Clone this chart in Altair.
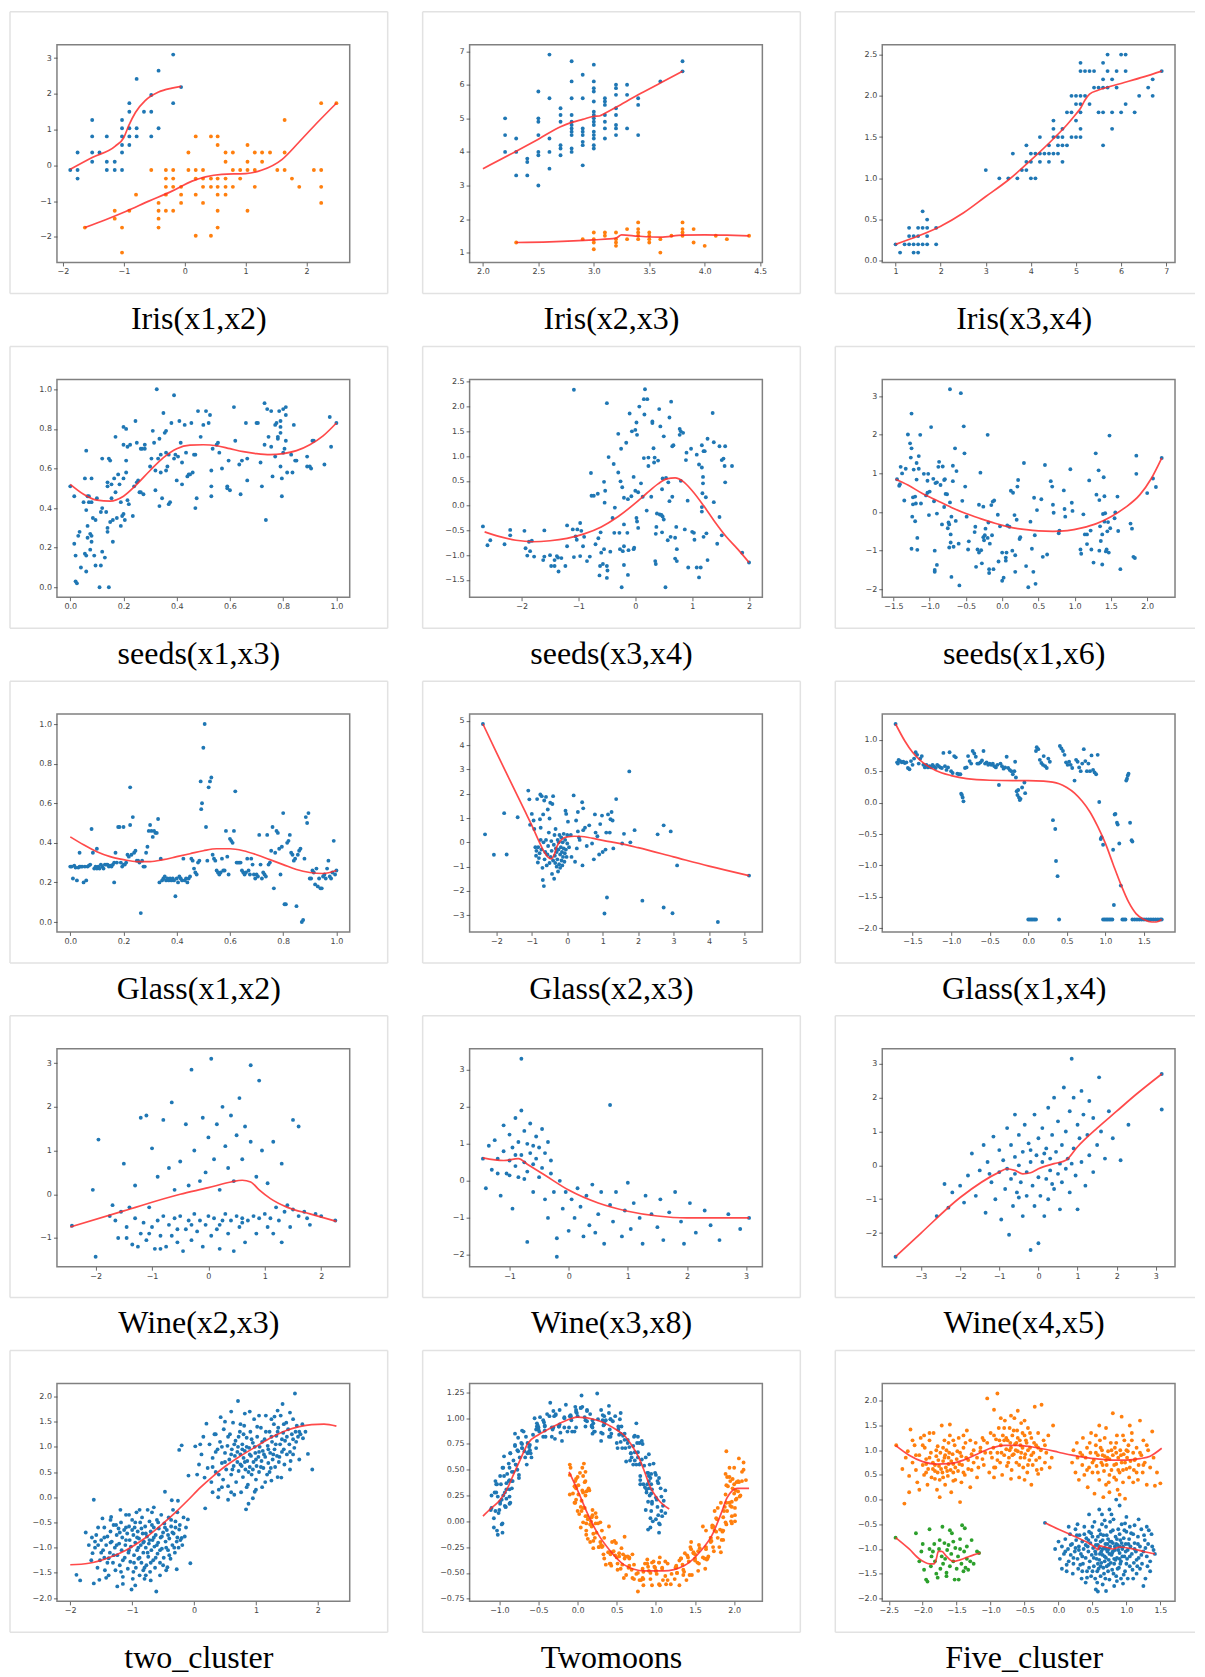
import altair as alt
import pandas as pd

BLUE = "#1f77b4"
ORANGE = "#ff7f0e"
GREEN = "#2ca02c"

# ---------------- Iris(x1,x2) ----------------
IRIS12_B = [(-1.88,-0.13),(-1.76,0.36),(-1.76,-0.13),(-1.76,-0.37),(-1.52,1.27),(-1.52,0.81),(-1.52,0.36),(-1.52,0.10),
            (-1.40,0.36),(-1.28,0.81),(-1.28,0.10),(-1.28,-0.13),(-1.15,0.10),(-1.15,-0.13),(-1.03,1.27),(-1.03,1.04),
            (-1.03,0.81),(-1.03,0.57),(-1.03,0.36),(-1.03,-0.13),(-0.91,1.74),(-0.91,1.50),(-0.91,1.04),(-0.91,0.81),
            (-0.91,0.57),(-0.79,2.42),(-0.79,1.04),(-0.79,0.81),(-0.67,1.50),(-0.55,1.50),(-0.55,1.97),(-0.55,0.81),
            (-0.43,2.65),(-0.43,1.04),(-0.19,3.10),(-0.19,1.74),(-0.06,2.19)]
IRIS12_O = [(2.24,1.74),(2.49,1.74),(1.64,1.27),(0.18,0.81),(0.43,0.81),(0.54,0.81),(0.54,0.57),(1.03,0.57),
            (0.06,0.36),(0.67,0.36),(0.79,0.36),(1.15,0.36),(1.27,0.36),(1.40,0.36),(1.64,0.36),
            (0.67,0.10),(1.03,0.10),(1.27,0.10),
            (-0.55,-0.13),(-0.31,-0.13),(-0.19,-0.13),(0.06,-0.13),(0.18,-0.13),(0.30,-0.13),(0.79,-0.13),(0.91,-0.13),
            (1.03,-0.13),(1.15,-0.13),(1.52,-0.13),(1.64,-0.13),(2.12,-0.13),(2.24,-0.13),
            (-0.31,-0.37),(-0.19,-0.37),(0.18,-0.37),(0.30,-0.37),(0.43,-0.37),(0.54,-0.37),(0.67,-0.37),(0.91,-0.37),(1.76,-0.37),
            (-0.31,-0.60),(-0.19,-0.60),(-0.06,-0.60),(0.30,-0.60),(0.43,-0.60),(0.54,-0.60),(0.67,-0.60),(0.79,-0.60),
            (1.15,-0.60),(1.88,-0.60),(2.24,-0.60),
            (-0.80,-0.82),(-0.31,-0.82),(-0.06,-0.82),(0.18,-0.82),(0.54,-0.82),(0.67,-0.82),
            (-0.43,-1.05),(-0.06,-1.05),(0.30,-1.05),(2.24,-1.05),
            (-1.15,-1.27),(-0.91,-1.27),(-0.43,-1.27),(-0.31,-1.27),(-0.19,-1.27),(0.54,-1.27),(1.03,-1.27),
            (-1.15,-1.49),(-0.43,-1.49),(-1.64,-1.74),(-1.03,-1.74),(-0.43,-1.74),(0.54,-1.74),
            (0.18,-1.97),(0.43,-1.97),(-1.03,-2.44)]
IRIS12_CB = [(-1.88,-0.11),(-1.52,0.22),(-1.14,0.54),(-1.0,0.78),(-0.92,1.11),(-0.81,1.48),(-0.65,1.81),
             (-0.43,2.05),(-0.21,2.16),(-0.06,2.21)]
IRIS12_CO = [(-1.64,-1.74),(-1.30,-1.52),(-0.97,-1.29),(-0.59,-1.0),(-0.21,-0.72),(0.12,-0.44),(0.34,-0.32),
             (0.61,-0.25),(1.0,-0.23),(1.27,-0.13),(1.60,0.17),(1.87,0.64),(2.15,1.15),(2.49,1.74)]

# ---------------- Iris(x2,x3) ----------------
IRIS23_B = [(2.2,5.0),(2.2,4.5),(2.2,4.0),(2.3,4.4),(2.3,4.0),(2.3,3.3),(2.4,3.8),(2.4,3.7),(2.4,3.3),
            (2.5,5.8),(2.5,5.0),(2.5,4.9),(2.5,4.5),(2.5,4.0),(2.5,3.9),(2.5,3.0),
            (2.6,6.9),(2.6,5.6),(2.6,4.4),(2.6,4.0),(2.6,3.5),
            (2.7,5.3),(2.7,5.1),(2.7,4.9),(2.7,4.2),(2.7,4.1),(2.7,3.9),
            (2.8,6.7),(2.8,6.1),(2.8,5.6),(2.8,5.1),(2.8,4.9),(2.8,4.8),(2.8,4.7),(2.8,4.6),(2.8,4.5),(2.8,4.1),(2.8,4.0),
            (2.9,6.3),(2.9,5.6),(2.9,4.7),(2.9,4.6),(2.9,4.5),(2.9,4.3),(2.9,4.2),(2.9,3.6),
            (3.0,6.6),(3.0,6.1),(3.0,5.9),(3.0,5.8),(3.0,5.5),(3.0,5.2),(3.0,5.1),(3.0,5.0),(3.0,4.9),(3.0,4.8),
            (3.0,4.6),(3.0,4.5),(3.0,4.4),(3.0,4.2),(3.0,4.1),
            (3.1,5.6),(3.1,5.5),(3.1,5.4),(3.1,5.1),(3.1,4.9),(3.1,4.7),(3.1,4.4),
            (3.2,6.0),(3.2,5.9),(3.2,5.7),(3.2,5.3),(3.2,5.1),(3.2,4.8),(3.2,4.7),(3.2,4.5),
            (3.3,6.0),(3.3,5.7),(3.3,4.7),(3.4,5.6),(3.4,5.4),(3.4,4.5),(3.6,6.1),(3.8,6.7),(3.8,6.4)]
IRIS23_O = [(2.3,1.3),(2.9,1.4),(3.0,1.6),(3.0,1.4),(3.0,1.3),(3.0,1.1),(3.1,1.6),(3.1,1.5),
            (3.2,1.6),(3.2,1.4),(3.2,1.3),(3.2,1.2),(3.3,1.7),(3.3,1.4),
            (3.4,1.9),(3.4,1.7),(3.4,1.6),(3.4,1.5),(3.4,1.4),(3.5,1.6),(3.5,1.5),(3.5,1.4),(3.5,1.3),
            (3.6,1.4),(3.6,1.0),(3.7,1.5),(3.8,1.9),(3.8,1.7),(3.8,1.6),(3.8,1.5),(3.9,1.7),(3.9,1.3),
            (4.0,1.2),(4.1,1.5),(4.2,1.4),(4.4,1.5)]
IRIS23_CB = [(2.0,3.5),(2.3,4.02),(2.5,4.38),(2.7,4.75),(2.8,4.88),(2.9,4.97),(3.0,5.06),(3.05,5.07),
             (3.1,5.15),(3.2,5.33),(3.4,5.7),(3.6,6.05),(3.8,6.4)]
IRIS23_CO = [(2.3,1.3),(2.6,1.32),(3.0,1.38),(3.2,1.43),(3.25,1.53),(3.4,1.49),(3.6,1.46),(3.8,1.52),
             (4.0,1.53),(4.2,1.52),(4.4,1.5)]

# ---------------- Iris(x3,x4) ----------------
IRIS34_B = [(1.0,0.2),(1.1,0.1),(1.2,0.2),(1.3,0.2),(1.3,0.3),(1.3,0.4),(1.4,0.2),(1.4,0.1),(1.4,0.3),
            (1.5,0.2),(1.5,0.4),(1.5,0.1),(1.5,0.3),(1.6,0.2),(1.6,0.4),(1.6,0.6),(1.7,0.5),(1.7,0.4),
            (1.7,0.3),(1.7,0.2),(1.9,0.4),(1.9,0.2),
            (3.0,1.1),(3.3,1.0),(3.5,1.0),(3.6,1.3),(3.7,1.0),(3.8,1.1),(3.9,1.1),(3.9,1.2),(3.9,1.4),
            (4.0,1.0),(4.0,1.2),(4.0,1.3),(4.1,1.0),(4.1,1.3),(4.2,1.2),(4.2,1.3),(4.2,1.5),(4.3,1.3),
            (4.4,1.2),(4.4,1.3),(4.4,1.4),(4.5,1.3),(4.5,1.5),(4.5,1.6),(4.5,1.7),(4.6,1.3),(4.6,1.4),
            (4.6,1.5),(4.7,1.2),(4.7,1.4),(4.7,1.5),(4.7,1.6),(4.8,1.4),(4.8,1.8),(4.9,1.5),(4.9,1.8),
            (4.9,2.0),(5.0,1.5),(5.0,1.7),(5.0,1.9),(5.0,2.0),(5.1,1.5),(5.1,1.6),(5.1,1.8),(5.1,1.9),
            (5.1,2.0),(5.1,2.3),(5.1,2.4),(5.2,2.0),(5.2,2.3),(5.3,1.9),(5.3,2.3),(5.4,2.1),(5.4,2.3),
            (5.5,1.8),(5.5,2.1),(5.6,1.4),(5.6,1.8),(5.6,2.1),(5.6,2.2),(5.6,2.4),(5.7,2.1),(5.7,2.3),
            (5.7,2.5),(5.8,1.6),(5.8,1.8),(5.8,2.2),(5.9,2.1),(5.9,2.3),(6.0,1.8),(6.0,2.5),(6.1,1.9),
            (6.1,2.3),(6.1,2.5),(6.3,1.8),(6.4,2.0),(6.6,2.1),(6.7,2.0),(6.7,2.2),(6.9,2.3)]
IRIS34_C = [(1.0,0.2),(1.5,0.3),(2.0,0.42),(2.5,0.58),(3.0,0.78),(3.5,0.98),(4.0,1.22),(4.5,1.48),
            (4.8,1.65),(5.0,1.78),(5.1,1.85),(5.2,1.95),(5.3,2.02),(5.5,2.07),(6.0,2.15),(6.5,2.23),(6.9,2.3)]

# ---------------- seeds(x1,x3) ----------------
SEEDS13_B = [(0.0,0.51),(0.015,0.22),(0.02,0.16),(0.015,0.46),(0.02,0.03),(0.025,0.02),(0.03,0.26),(0.035,0.28),
             (0.04,0.10),(0.05,0.43),(0.055,0.55),(0.055,0.17),(0.06,0.16),(0.06,0.08),(0.06,0.69),(0.06,0.39),
             (0.065,0.31),(0.065,0.25),(0.065,0.46),(0.07,0.46),(0.07,0.43),(0.075,0.19),(0.075,0.27),(0.08,0.26),
             (0.08,0.23),(0.08,0.43),(0.08,0.55),(0.085,0.35),(0.09,0.16),(0.095,0.34),(0.095,0.11),(0.1,0.45),
             (0.11,0.0),(0.115,0.11),(0.115,0.38),(0.12,0.40),(0.12,0.18),(0.12,0.65),(0.13,0.15),(0.135,0.38),
             (0.14,0.30),(0.14,0.51),(0.14,0.53),(0.14,0.28),(0.145,0.65),(0.145,0.0),(0.15,0.64),(0.15,0.33),
             (0.155,0.45),(0.155,0.52),(0.16,0.23),(0.16,0.34),(0.165,0.55),(0.17,0.76),(0.17,0.48),(0.175,0.35),
             (0.18,0.57),(0.185,0.52),(0.19,0.31),(0.19,0.43),(0.195,0.36),(0.2,0.37),(0.2,0.72),(0.2,0.55),
             (0.2,0.81),(0.205,0.34),(0.21,0.80),(0.21,0.64),(0.21,0.58),(0.215,0.44),(0.215,0.71),(0.22,0.42),
             (0.225,0.72),(0.235,0.36),(0.24,0.51),(0.245,0.84),(0.25,0.53),(0.25,0.73),(0.255,0.54),(0.26,0.48),
             (0.265,0.70),(0.265,0.48),(0.27,0.70),(0.275,0.47),(0.28,0.72),(0.28,0.70),
             (0.3,0.61),(0.305,0.65),(0.31,0.79),(0.315,0.73),(0.32,0.59),(0.32,0.49),(0.325,1.0),(0.33,0.65),
             (0.335,0.75),(0.335,0.41),(0.34,0.67),(0.34,0.58),(0.345,0.45),(0.35,0.88),(0.355,0.78),(0.36,0.79),
             (0.36,0.68),(0.36,0.59),(0.365,0.61),(0.37,0.67),(0.37,0.42),(0.375,0.43),(0.38,0.83),(0.39,0.97),
             (0.39,0.65),(0.395,0.67),(0.4,0.54),(0.405,0.66),(0.41,0.84),(0.415,0.73),(0.42,0.52),(0.42,0.63),
             (0.43,0.82),(0.435,0.68),(0.44,0.56),(0.445,0.57),(0.45,0.57),(0.455,0.83),(0.46,0.58),(0.465,0.67),
             (0.47,0.40),(0.47,0.67),(0.475,0.45),(0.48,0.89),(0.49,0.76),(0.5,0.82),(0.51,0.89),(0.52,0.83),
             (0.525,0.87),(0.53,0.46),(0.53,0.51),(0.53,0.59),(0.535,0.70),(0.55,0.72),(0.555,0.73),(0.56,0.68),
             (0.57,0.60),(0.59,0.51),(0.59,0.50),(0.595,0.64),(0.6,0.49),
             (0.615,0.91),(0.62,0.74),(0.635,0.62),(0.64,0.47),(0.645,0.64),(0.66,0.83),(0.665,0.54),(0.665,0.65),
             (0.7,0.83),(0.705,0.83),(0.715,0.63),(0.72,0.51),(0.73,0.72),(0.73,0.93),(0.735,0.34),(0.74,0.90),
             (0.745,0.76),(0.755,0.71),(0.755,0.89),(0.76,0.56),(0.77,0.66),(0.77,0.82),(0.775,0.83),(0.78,0.75),
             (0.78,0.76),(0.785,0.89),(0.79,0.84),(0.79,0.81),(0.79,0.78),(0.79,0.61),(0.795,0.46),(0.795,0.55),
             (0.8,0.68),(0.8,0.90),(0.805,0.70),(0.81,0.91),(0.81,0.87),(0.81,0.74),(0.815,0.58),(0.83,0.67),
             (0.835,0.58),(0.84,0.82),(0.845,0.64),(0.85,0.64),(0.89,0.61),(0.89,0.66),(0.9,0.61),(0.905,0.60),
             (0.91,0.74),(0.915,0.74),(0.955,0.62),(0.975,0.86),(0.98,0.71),(1.0,0.83)]
SEEDS13_C = [(0.0,0.52),(0.05,0.47),(0.1,0.44),(0.15,0.435),(0.2,0.46),(0.25,0.52),(0.3,0.59),(0.35,0.655),
             (0.4,0.70),(0.45,0.718),(0.5,0.72),(0.55,0.715),(0.6,0.70),(0.65,0.685),(0.7,0.675),(0.75,0.67),
             (0.8,0.675),(0.85,0.69),(0.9,0.72),(0.95,0.765),(1.0,0.83)]

# ---------------- seeds(x3,x4) ----------------
SEEDS34_B = [(-2.68,-0.42),(-2.6,-0.8),(-2.55,-0.7),(-2.3,-0.78),(-2.2,-0.49),(-2.2,-0.6),(-1.95,-0.51),(-1.93,-0.86),
             (-1.9,-1.01),(-1.87,-0.73),(-1.85,-0.92),(-1.82,-0.71),(-1.78,-1.03),(-1.6,-0.5),(-1.62,-1.1),(-1.6,-1.03),
             (-1.5,-1.0),(-1.48,-1.22),(-1.42,-1.22),(-1.42,-1.1),(-1.38,-1.02),(-1.36,-1.05),(-1.35,-1.33),(-1.3,-1.06),
             (-1.23,-1.22),(-1.2,-0.82),(-1.2,-0.4),(-1.1,-0.48),(-1.08,-1.04),(-1.08,2.34),(-1.05,-0.62),(-1.03,-0.69),
             (-1.02,-0.48),(-0.97,-1.02),(-0.97,-0.35),(-0.95,-0.51),(-0.92,-0.82),(-0.9,-0.63),(-0.85,-1.12),(-0.8,-1.03),
             (-0.78,0.66),(-0.77,0.2),(-0.73,0.2),(-0.7,-0.78),(-0.66,0.24),(-0.65,-0.66),(-0.63,-1.41),(-0.62,-1.22),
             (-0.61,-0.54),(-0.6,-0.95),(-0.57,-1.18),(-0.55,-0.88),(-0.55,0.48),(-0.54,0.06),(-0.53,0.3),(-0.5,-1.46),
             (-0.5,-1.22),(-0.5,2.07),(-0.49,-1.31),(-0.47,0.98),(-0.44,-0.93),(-0.4,-0.25),(-0.38,0.84),(-0.37,-0.55),
             (-0.36,-0.04),(-0.3,1.45),(-0.3,0.67),(-0.28,-0.55),(-0.27,-0.88),(-0.26,0.49),(-0.25,1.15),(-0.24,-1.65),
             (-0.23,0.37),(-0.22,-0.92),(-0.2,-0.82),(-0.2,0.16),(-0.2,-0.38),(-0.2,-1.2),(-0.16,1.27),(-0.14,-0.55),
             (-0.13,0.13),(-0.13,-1.4),(-0.12,-0.9),(-0.1,1.86),(-0.07,0.19),(-0.06,1.5),(-0.03,-0.88),(-0.03,0.58),
             (-0.02,-0.85),(0.0,1.53),(0.0,0.3),(0.02,1.68),(0.02,-0.25),(0.03,1.43),(0.03,-0.32),(0.05,-0.45),
             (0.05,0.27),(0.07,2.0),(0.1,0.45),(0.13,0.18),(0.15,2.15),(0.15,0.96),(0.16,1.84),(0.17,2.35),
             (0.2,-0.1),(0.21,2.15),(0.23,0.8),(0.23,0.97),(0.28,0.18),(0.3,1.67),(0.3,1.7),(0.32,1.16),(0.33,0.87),
             (0.34,0.97),(0.35,-1.12),(0.36,-1.18),(0.36,-0.57),(0.37,-0.43),(0.38,-0.16),(0.4,0.91),(0.42,1.95),
             (0.43,-0.18),(0.44,1.6),(0.46,-0.19),(0.47,0.33),(0.47,-0.54),(0.48,0.55),(0.48,-0.22),(0.5,1.4),
             (0.5,-0.28),(0.53,-1.65),(0.54,0.56),(0.57,-0.7),(0.58,0.47),(0.6,1.78),(0.6,0.09),(0.62,-0.63),
             (0.63,2.1),(0.65,0.18),(0.65,1.2),(0.67,1.22),(0.7,-1.07),(0.7,-0.65),(0.72,-0.43),(0.73,-1.12),
             (0.73,-0.88),(0.78,1.43),(0.78,1.55),(0.8,0.5),(0.8,1.5),(0.84,1.47),(0.87,-0.48),(0.89,0.92),
             (0.9,1.07),(0.92,0.1),(0.93,-1.25),(0.98,1.15),(1.0,-0.53),(1.03,-0.55),(1.04,-0.69),(1.08,1.03),
             (1.08,-1.25),(1.12,-1.45),(1.12,0.83),(1.15,-1.25),(1.17,1.22),(1.17,0.77),(1.17,-0.12),(1.17,-0.03),
             (1.18,0.25),(1.19,0.58),(1.19,0.45),(1.2,-0.63),(1.2,1.1),(1.22,1.1),(1.24,0.17),(1.25,-0.56),
             (1.27,1.35),(1.27,-1.1),(1.36,1.87),(1.38,1.28),(1.38,0.07),(1.44,-0.77),(1.48,-0.23),(1.48,1.2),
             (1.52,0.92),(1.52,-0.6),(1.55,0.95),(1.57,0.8),(1.58,0.47),(1.58,1.2),(1.7,0.8),(1.88,-0.95),(2.0,-1.15)]
SEEDS34_C = [(-2.65,-0.53),(-2.4,-0.62),(-2.1,-0.7),(-1.8,-0.73),(-1.5,-0.71),(-1.2,-0.66),(-0.9,-0.57),
             (-0.6,-0.43),(-0.3,-0.22),(0.0,0.05),(0.2,0.25),(0.4,0.44),(0.55,0.54),(0.7,0.56),(0.85,0.48),
             (1.0,0.3),(1.2,0.0),(1.4,-0.33),(1.6,-0.63),(1.8,-0.88),(2.0,-1.15)]

# ---------------- seeds(x1,x6) ----------------
SEEDS16_B = [(-1.45,0.85),(-1.42,0.68),(-1.41,0.72),(-1.4,1.17),(-1.38,1.0),(-1.35,0.3),(-1.33,1.12),(-1.3,2.01),
             (-1.27,1.78),(-1.26,1.41),(-1.25,1.65),(-1.25,2.55),(-1.25,-0.95),(-1.24,-0.12),(-1.23,0.38),(-1.23,0.2),
             (-1.22,1.1),(-1.2,-0.24),(-1.2,0.4),(-1.19,0.22),(-1.18,1.27),(-1.18,0.84),(-1.17,-0.67),(-1.17,-0.98),
             (-1.15,1.45),(-1.15,1.12),(-1.13,2.0),(-1.12,0.22),(-1.08,0.99),(-1.05,0.43),(-1.03,0.5),(-1.03,0.81),
             (-1.02,0.99),(-1.01,-0.08),(-1.0,0.53),(-0.98,2.2),(-0.95,0.86),(-0.94,0.28),(-0.93,-1.0),(-0.93,-1.5),
             (-0.93,-1.55),(-0.92,0.75),(-0.9,-0.04),(-0.9,0.77),(-0.9,-1.37),(-0.88,1.17),(-0.87,1.3),(-0.85,0.7),
             (-0.83,-0.32),(-0.82,1.18),(-0.8,0.13),(-0.8,0.83),(-0.79,0.85),(-0.78,0.47),(-0.76,0.46),(-0.75,-0.42),
             (-0.74,-0.27),(-0.73,-0.32),(-0.73,-0.92),(-0.72,3.18),(-0.72,0.25),(-0.71,-0.79),(-0.71,-0.58),(-0.7,-0.12),
             (-0.7,-1.68),(-0.68,1.2),(-0.68,0.8),(-0.67,-0.9),(-0.65,1.65),(-0.64,-0.23),(-0.63,1.06),(-0.6,-0.82),
             (-0.59,-1.9),(-0.57,3.08),(-0.55,0.29),(-0.53,2.22),(-0.52,1.52),(-0.51,0.66),(-0.49,-0.12),(-0.47,-0.97),
             (-0.46,-0.76),(-0.38,-0.52),(-0.37,-0.38),(-0.36,-1.42),(-0.34,-0.97),(-0.32,0.19),(-0.32,-1.05),(-0.3,1.02),
             (-0.29,-0.99),(-0.28,-1.33),(-0.26,0.14),(-0.26,-0.65),(-0.25,-0.73),(-0.24,-0.6),(-0.23,-0.43),(-0.2,2.0),
             (-0.2,-0.67),(-0.19,-0.27),(-0.18,-1.58),(-0.18,-1.48),(-0.17,-0.82),(-0.15,0.18),(-0.14,-0.6),(-0.13,0.27),
             (-0.12,-1.48),(-0.11,0.3),(-0.06,-0.07),(-0.05,-1.28),(-0.03,-0.37),(0.0,-1.78),(0.0,-1.05),(0.02,-1.7),
             (0.05,-1.26),(0.05,-1.18),(0.06,-1.05),(0.07,-0.35),(0.1,-0.38),(0.12,0.55),(0.14,-1.0),(0.15,0.5),
             (0.17,-0.08),(0.18,-1.12),(0.18,-1.55),(0.2,-0.2),(0.21,0.66),(0.22,0.83),(0.24,-0.7),(0.25,-0.65),
             (0.3,1.27),(0.33,-1.4),(0.36,-1.95),(0.39,-0.25),(0.41,-0.95),(0.43,-1.55),(0.44,0.37),(0.45,-0.6),
             (0.46,-1.86),(0.48,0.05),(0.54,0.33),(0.56,-1.16),(0.59,1.22),(0.62,-1.1),(0.67,0.8),(0.69,0.66),
             (0.7,0.19),(0.71,-0.02),(0.78,-0.55),(0.79,-0.48),(0.85,0.56),(0.86,0.08),(0.87,-0.12),(0.94,1.11),
             (0.96,0.24),(0.97,0.03),(1.08,-0.97),(1.09,-1.08),(1.12,-0.06),(1.14,-0.58),(1.17,-0.58),(1.17,-0.83),
             (1.2,0.82),(1.22,-0.48),(1.23,-0.97),(1.26,-1.31),(1.29,1.52),(1.3,0.45),(1.33,1.08),(1.34,0.31),
             (1.34,-1.0),(1.35,-0.37),(1.36,-0.75),(1.38,-1.36),(1.38,-0.58),(1.39,-0.05),(1.4,0.9),(1.41,0.41),
             (1.41,-0.25),(1.42,-0.03),(1.43,-1.02),(1.44,-0.97),(1.45,-0.5),(1.46,-0.26),(1.47,-1.05),(1.48,1.98),
             (1.49,-0.42),(1.55,-0.16),(1.56,-0.01),(1.59,0.4),(1.6,-0.49),(1.63,-1.48),(1.77,-0.3),(1.79,-0.43),
             (1.81,-1.16),(1.83,-1.19),(1.85,1.46),(1.85,0.99),(2.0,0.49),(2.08,0.87),(2.12,0.65),(2.2,1.4)]
SEEDS16_C = [(-1.47,0.85),(-1.3,0.7),(-1.1,0.48),(-0.9,0.3),(-0.7,0.12),(-0.5,-0.04),(-0.3,-0.17),(-0.1,-0.29),
             (0.1,-0.39),(0.3,-0.45),(0.5,-0.49),(0.7,-0.5),(0.9,-0.48),(1.1,-0.41),(1.3,-0.3),(1.5,-0.12),
             (1.7,0.12),(1.9,0.45),(2.05,0.85),(2.2,1.4)]

# ---------------- Glass(x1,x2) ----------------
GLASS12_B = [(0.0,0.28),(0.005,0.28),(0.01,0.22),(0.015,0.285),(0.02,0.275),(0.025,0.21),(0.03,0.275),(0.035,0.28),
             (0.035,0.35),(0.04,0.28),(0.045,0.28),(0.05,0.20),(0.055,0.28),(0.06,0.21),(0.065,0.28),(0.07,0.285),
             (0.075,0.29),(0.08,0.47),(0.085,0.35),(0.09,0.27),(0.095,0.28),(0.1,0.27),(0.1,0.37),(0.105,0.28),
             (0.11,0.27),(0.115,0.29),(0.12,0.28),(0.125,0.27),(0.13,0.29),(0.135,0.29),(0.14,0.29),(0.145,0.28),
             (0.15,0.285),(0.155,0.28),(0.16,0.29),(0.165,0.30),(0.165,0.20),(0.17,0.35),(0.175,0.30),(0.18,0.48),
             (0.185,0.48),(0.19,0.30),(0.195,0.28),(0.2,0.29),(0.2,0.48),(0.205,0.29),(0.21,0.30),(0.215,0.34),
             (0.22,0.33),(0.225,0.68),(0.225,0.49),(0.23,0.34),(0.235,0.53),(0.24,0.35),(0.245,0.36),(0.25,0.31),
             (0.255,0.31),(0.26,0.30),(0.265,0.045),(0.27,0.31),(0.275,0.28),(0.28,0.28),(0.285,0.35),(0.29,0.38),
             (0.295,0.46),(0.3,0.49),(0.305,0.46),(0.31,0.43),(0.315,0.46),(0.32,0.45),(0.325,0.45),(0.33,0.52),
             (0.335,0.20),(0.34,0.32),(0.345,0.21),(0.35,0.22),(0.355,0.23),(0.36,0.21),(0.365,0.22),(0.37,0.21),
             (0.375,0.22),(0.38,0.21),(0.385,0.22),(0.39,0.21),(0.395,0.13),(0.4,0.22),(0.405,0.20),(0.41,0.23),
             (0.415,0.22),(0.42,0.21),(0.425,0.32),(0.43,0.21),(0.435,0.22),(0.44,0.20),(0.445,0.22),(0.45,0.23),
             (0.455,0.32),(0.46,0.31),(0.465,0.27),(0.47,0.25),(0.475,0.24),(0.48,0.30),(0.485,0.31),(0.49,0.71),
             (0.492,0.57),(0.495,0.60),(0.5,0.88),(0.505,1.0),(0.51,0.48),(0.515,0.31),(0.52,0.68),(0.525,0.71),
             (0.53,0.73),(0.535,0.34),(0.54,0.32),(0.545,0.31),(0.55,0.26),(0.555,0.25),(0.56,0.24),(0.565,0.25),
             (0.57,0.32),(0.575,0.26),(0.58,0.26),(0.585,0.46),(0.59,0.33),(0.595,0.24),(0.6,0.42),(0.605,0.41),
             (0.61,0.40),(0.615,0.46),(0.62,0.66),(0.625,0.30),(0.63,0.30),(0.635,0.30),(0.64,0.30),(0.645,0.26),
             (0.65,0.25),(0.655,0.24),(0.66,0.25),(0.665,0.32),(0.67,0.26),(0.675,0.24),(0.68,0.32),(0.685,0.29),
             (0.69,0.24),(0.695,0.22),(0.7,0.24),(0.705,0.23),(0.71,0.44),(0.715,0.29),(0.72,0.22),(0.725,0.25),
             (0.73,0.24),(0.735,0.23),(0.74,0.44),(0.745,0.29),(0.75,0.30),(0.755,0.36),(0.76,0.48),(0.765,0.17),
             (0.77,0.35),(0.775,0.46),(0.78,0.45),(0.785,0.37),(0.79,0.24),(0.795,0.38),(0.8,0.55),(0.805,0.09),
             (0.81,0.09),(0.815,0.40),(0.82,0.41),(0.825,0.44),(0.83,0.35),(0.835,0.34),(0.84,0.31),(0.845,0.32),
             (0.85,0.08),(0.855,0.34),(0.86,0.36),(0.865,0.37),(0.87,0.0),(0.875,0.01),(0.88,0.32),(0.885,0.53),
             (0.89,0.50),(0.895,0.55),(0.9,0.22),(0.905,0.22),(0.91,0.26),(0.915,0.25),(0.92,0.19),(0.925,0.27),
             (0.93,0.18),(0.935,0.22),(0.94,0.17),(0.945,0.17),(0.95,0.23),(0.955,0.24),(0.96,0.22),(0.965,0.27),
             (0.97,0.31),(0.975,0.23),(0.98,0.22),(0.985,0.25),(0.99,0.41),(0.995,0.24),(1.0,0.26)]
GLASS12_C = [(0.0,0.43),(0.05,0.39),(0.1,0.355),(0.15,0.33),(0.2,0.315),(0.25,0.305),(0.3,0.305),(0.35,0.315),
             (0.4,0.33),(0.45,0.345),(0.5,0.36),(0.55,0.37),(0.6,0.37),(0.65,0.36),(0.7,0.34),(0.75,0.315),
             (0.8,0.29),(0.85,0.265),(0.9,0.25),(0.95,0.245),(1.0,0.26)]

# ---------------- Glass(x2,x3) ----------------
GLASS23_B = [(-2.38,4.87),(-2.32,0.33),(-2.07,-0.51),(-1.78,1.2),(-1.71,-0.5),(-1.4,1.03),(-1.1,2.13),(-1.07,1.77),
             (-1.05,0.72),(-1.0,1.17),(-0.95,0.9),(-0.93,0.55),(-0.9,-0.2),(-0.88,-0.55),(-0.87,-0.35),(-0.85,1.78),
             (-0.83,-0.83),(-0.82,-0.2),(-0.8,-0.65),(-0.78,-0.45),(-0.77,0.95),(-0.76,1.97),(-0.75,0.6),(-0.75,0.1),
             (-0.73,-0.3),(-0.72,1.9),(-0.7,-1.05),(-0.69,-1.55),(-0.68,1.15),(-0.67,0.0),(-0.66,-1.8),(-0.65,1.72),
             (-0.64,-0.7),(-0.62,-0.4),(-0.6,0.1),(-0.6,1.87),(-0.58,-0.95),(-0.56,-0.5),(-0.55,1.35),(-0.54,-0.15),
             (-0.52,0.4),(-0.5,-0.85),(-0.5,0.98),(-0.48,1.63),(-0.47,-0.6),(-0.45,0.05),(-0.44,-0.35),(-0.43,-1.3),
             (-0.42,1.58),(-0.4,-0.75),(-0.4,1.9),(-0.38,-0.1),(-0.37,-1.5),(-0.36,0.3),(-0.35,-0.55),(-0.34,-0.85),
             (-0.33,0.55),(-0.32,-0.25),(-0.3,-1.0),(-0.3,-0.4),(-0.28,-0.7),(-0.27,0.1),(-0.26,-1.2),(-0.25,-0.3),
             (-0.24,0.0),(-0.23,-0.9),(-0.22,0.3),(-0.2,-0.5),(-0.2,-1.05),(-0.18,-0.2),(-0.17,0.2),(-0.16,-0.75),
             (-0.15,-0.4),(-0.14,-0.95),(-0.13,0.0),(-0.12,-0.6),(-0.1,-0.25),(-0.1,0.35),(-0.08,-0.8),(-0.07,-0.45),
             (-0.06,0.1),(-0.05,1.3),(-0.04,-0.3),(-0.03,1.17),(-0.02,-0.6),(0.0,-0.05),(0.0,0.3),(0.02,0.85),
             (0.05,-0.2),(0.1,0.3),(0.12,-0.6),(0.18,1.93),(0.22,-0.8),(0.25,0.9),(0.27,-0.25),(0.3,0.45),(0.3,1.25),
             (0.33,0.2),(0.35,0.1),(0.42,1.65),(0.43,-0.95),(0.45,1.4),(0.45,0.5),(0.5,0.6),(0.55,-0.15),(0.62,0.7),
             (0.7,-0.05),(0.75,-0.7),(0.78,1.15),(0.8,0.4),(0.85,0.25),(0.9,-0.5),(0.93,0.75),(0.98,1.1),(1.0,-0.4),
             (1.05,-2.93),(1.08,-0.3),(1.1,0.4),(1.12,-2.27),(1.15,1.15),(1.2,0.4),(1.22,0.95),(1.25,1.25),(1.28,0.9),
             (1.3,-0.25),(1.38,1.78),(1.55,-0.05),(1.6,0.35),(1.75,2.92),(1.78,0.0),(1.9,0.5),(2.12,-2.4),(2.55,0.33),
             (2.72,0.7),(2.72,-2.68),(2.92,0.45),(2.97,-2.92),(3.1,-0.95),(4.25,-3.28),(5.13,-1.37)]
GLASS23_C = [(-2.38,4.87),(-2.0,3.7),(-1.6,2.5),(-1.2,1.3),(-1.0,0.7),(-0.8,0.05),(-0.65,-0.4),(-0.55,-0.6),
             (-0.45,-0.68),(-0.38,-0.55),(-0.3,-0.2),(-0.2,0.05),(-0.1,0.18),(0.0,0.22),(0.2,0.25),(0.4,0.24),
             (0.6,0.2),(0.8,0.14),(1.0,0.08),(1.5,-0.05),(2.0,-0.22),(3.0,-0.6),(4.0,-0.98),(5.13,-1.37)]

# ---------------- Glass(x1,x4) ----------------
GLASS14_B = [(-1.72,1.25),(-1.7,0.64),(-1.69,0.62),(-1.68,0.68),(-1.66,0.66),(-1.64,0.64),(-1.62,0.65),(-1.6,0.63),
             (-1.58,0.64),(-1.56,0.55),(-1.54,0.53),(-1.52,0.66),(-1.5,0.6),(-1.48,0.7),(-1.46,0.8),(-1.44,0.76),
             (-1.42,0.62),(-1.4,0.7),(-1.38,0.74),(-1.36,0.6),(-1.34,0.56),(-1.32,0.6),(-1.3,0.56),(-1.28,0.58),
             (-1.26,0.56),(-1.24,0.6),(-1.22,0.57),(-1.2,0.55),(-1.18,0.6),(-1.16,0.58),(-1.14,0.56),(-1.12,0.55),
             (-1.1,0.79),(-1.08,0.58),(-1.06,0.52),(-1.04,0.56),(-1.02,0.8),(-1.0,0.5),(-0.98,0.47),(-0.96,0.74),
             (-0.94,0.72),(-0.92,0.46),(-0.9,0.45),(-0.88,0.45),(-0.87,0.14),(-0.86,0.12),(-0.85,0.08),(-0.84,0.02),
             (-0.82,0.55),(-0.8,0.56),(-0.78,0.74),(-0.76,0.66),(-0.74,0.62),(-0.72,0.82),(-0.7,0.78),(-0.68,0.73),
             (-0.66,0.62),(-0.64,0.62),(-0.62,0.64),(-0.6,0.67),(-0.58,0.82),(-0.56,0.62),(-0.54,0.64),(-0.52,0.6),
             (-0.5,0.62),(-0.48,0.6),(-0.46,0.62),(-0.44,0.58),(-0.42,0.56),(-0.4,0.6),(-0.38,0.28),(-0.36,0.62),
             (-0.34,0.58),(-0.32,0.54),(-0.3,0.56),(-0.28,0.73),(-0.26,0.55),(-0.24,0.52),(-0.22,0.5),(-0.2,0.45),
             (-0.18,0.5),(-0.17,0.65),(-0.16,0.4),(-0.15,0.18),(-0.14,0.12),(-0.13,0.2),(-0.12,0.08),(-0.11,0.04),
             (-0.1,0.06),(-0.08,0.24),(-0.05,0.32),(-0.04,0.15),
             (0.1,0.82),(0.11,0.88),(0.13,0.85),(0.15,0.68),(0.17,0.63),(0.19,0.6),(0.2,0.74),(0.22,0.58),
             (0.24,0.55),(0.26,0.7),(0.28,0.65),(0.32,-0.28),(0.35,-0.42),(0.36,-0.93),(0.38,-1.17),(0.41,0.9),
             (0.43,0.86),(0.45,0.82),(0.47,0.76),(0.49,0.64),(0.51,0.6),(0.53,0.65),(0.55,0.6),(0.57,0.55),
             (0.6,0.35),(0.62,0.68),(0.64,0.65),(0.66,0.56),(0.68,0.5),(0.7,0.62),(0.72,0.85),(0.74,0.66),
             (0.76,0.5),(0.78,0.62),(0.8,0.5),(0.82,0.75),(0.84,0.52),(0.86,0.48),(0.88,0.45),(0.9,0.76),
             (0.92,0.01),(0.94,-0.58),(0.95,-0.55),(0.97,-0.67),(1.1,-0.75),(1.12,-0.19),(1.13,-0.18),(1.15,-0.32),
             (1.16,-0.35),(1.18,-0.65),(1.2,-1.32),(1.11,-1.63),(1.27,0.35),(1.28,0.38),(1.29,0.43),(1.3,0.46),
             (1.32,-0.32),(1.34,-0.6),(1.35,-0.62),
             (0.0,-1.86),(0.02,-1.86),(0.04,-1.86),(0.06,-1.86),(0.08,-1.86),(0.1,-1.86),(0.4,-1.86),
             (0.97,-1.86),(0.99,-1.86),(1.01,-1.86),(1.03,-1.86),(1.05,-1.86),(1.07,-1.86),(1.09,-1.86),
             (1.22,-1.86),(1.24,-1.86),(1.26,-1.86),(1.35,-1.86),(1.38,-1.86),(1.41,-1.86),(1.44,-1.86),
             (1.47,-1.86),(1.5,-1.86),(1.53,-1.86),(1.56,-1.86),(1.59,-1.86),(1.62,-1.86),(1.65,-1.86),
             (1.68,-1.86),(1.71,-1.86),(1.73,-1.86)]
GLASS14_C = [(-1.72,1.25),(-1.6,0.98),(-1.5,0.8),(-1.4,0.67),(-1.3,0.58),(-1.2,0.51),(-1.0,0.43),(-0.8,0.38),
             (-0.5,0.355),(-0.2,0.35),(0.0,0.35),(0.2,0.34),(0.4,0.3),(0.5,0.24),(0.6,0.15),(0.7,0.02),
             (0.8,-0.15),(0.9,-0.38),(1.0,-0.65),(1.1,-0.98),(1.2,-1.3),(1.3,-1.58),(1.4,-1.77),(1.5,-1.86),
             (1.6,-1.9),(1.66,-1.9),(1.73,-1.86)]

# ---------------- Wine(x2,x3) ----------------
WINE23_B = [(-2.42,-0.72),(-2.05,0.1),(-1.95,1.25),(-2.0,-1.43),(-1.75,-0.5),(-1.7,-0.25),(-1.65,-0.6),(-1.6,-1.0),
            (-1.55,-0.4),(-1.5,0.7),(-1.45,-0.75),(-1.4,-0.3),(-1.35,-1.15),(-1.3,0.2),(-1.3,-0.55),(-1.25,-1.2),
            (-1.2,1.75),(-1.2,-0.9),(-1.15,-0.65),(-1.1,1.8),(-1.1,-1.05),(-1.05,-0.3),(-1.0,1.05),(-1.0,-0.75),
            (-0.95,-1.25),(-0.9,0.4),(-0.9,-0.6),(-0.85,-0.95),(-0.8,1.7),(-0.8,-0.5),(-0.75,-1.2),(-0.7,0.6),
            (-0.7,-0.7),(-0.65,2.1),(-0.65,-0.95),(-0.6,0.1),(-0.6,-0.55),(-0.55,-1.1),(-0.5,0.75),(-0.5,-0.5),
            (-0.45,-1.3),(-0.4,1.6),(-0.4,-0.8),(-0.35,0.2),(-0.35,-0.6),(-0.3,2.85),(-0.3,-1.05),(-0.25,1.0),
            (-0.25,-0.45),(-0.2,-0.85),(-0.15,0.3),(-0.15,-0.6),(-0.1,1.75),(-0.1,-1.2),(-0.05,0.5),(-0.05,-0.7),
            (0.0,1.3),(0.0,-0.5),(0.05,3.1),(0.05,-0.95),(0.1,0.8),(0.1,-0.55),(0.15,1.6),(0.15,-0.8),(0.2,0.1),
            (0.2,-1.25),(0.25,2.0),(0.25,-0.6),(0.3,1.1),(0.3,-0.45),(0.35,0.6),(0.35,-0.9),(0.4,1.8),(0.4,-0.6),
            (0.45,0.3),(0.45,-1.3),(0.5,1.35),(0.5,-0.5),(0.55,2.2),(0.55,-0.75),(0.6,0.8),(0.6,-0.55),(0.65,1.55),
            (0.7,-0.6),(0.75,2.95),(0.75,1.2),(0.8,-0.5),(0.85,0.4),(0.85,-0.9),(0.9,2.6),(0.9,-0.55),(0.95,1.0),
            (1.0,-0.45),(1.05,0.25),(1.05,-0.75),(1.1,-0.55),(1.15,1.2),(1.2,-0.3),(1.25,-0.6),(1.3,0.7),
            (1.3,-1.1),(1.35,-0.4),(1.4,-0.25),(1.45,-0.75),(1.5,1.7),(1.5,-0.35),(1.6,1.55),(1.6,-0.5),
            (1.7,-0.4),(1.75,-0.55),(1.8,-0.7),(2.0,-0.5),(2.25,-0.6),(-1.05,-0.9),(-0.3,-0.7),(0.6,-0.65),
            (1.9,-0.45),(-0.55,-0.8),(0.2,-0.7),(1.15,-0.9),(-1.45,-1.0),(-0.85,-1.25),(0.65,-1.1)]
WINE23_C = [(-2.45,-0.75),(-1.5,-0.38),(-0.5,0.0),(0.0,0.15),(0.4,0.28),(0.6,0.32),(0.75,0.28),(0.9,0.1),
            (1.1,-0.1),(1.4,-0.3),(1.8,-0.45),(2.27,-0.62)]

# ---------------- Wine(x3,x8) ----------------
WINE38_B = [(-1.45,0.6),(-1.4,-0.2),(-1.35,0.95),(-1.3,0.3),(-1.25,1.1),(-1.2,0.6),(-1.15,-0.4),(-1.1,1.5),
            (-1.1,0.8),(-1.05,0.2),(-1.0,1.25),(-1.0,0.55),(-0.95,-0.75),(-0.95,0.9),(-0.9,1.7),(-0.9,0.4),
            (-0.85,1.05),(-0.85,0.1),(-0.8,3.3),(-0.8,0.7),(-0.8,1.9),(-0.75,0.5),(-0.75,1.35),(-0.7,1.0),
            (-0.7,0.25),(-0.7,-1.65),(-0.65,0.75),(-0.65,1.55),(-0.6,0.45),(-0.6,-0.3),(-0.55,1.2),(-0.55,0.6),
            (-0.5,0.9),(-0.5,0.1),(-0.45,1.4),(-0.45,0.35),(-0.4,-0.5),(-0.4,0.75),(-0.35,1.05),(-0.35,-1.0),
            (-0.3,0.2),(-0.3,0.55),(-0.25,-0.3),(-0.2,-1.55),(-0.2,-2.05),(-0.15,0.0),(-0.1,-0.75),(-0.05,-0.3),
            (0.0,-1.35),(0.05,-0.5),(0.1,-1.0),(0.15,-0.2),(0.2,-0.7),(0.25,-1.5),(0.3,-0.4),(0.35,-1.2),
            (0.4,-0.1),(0.45,-1.4),(0.5,-0.9),(0.55,-0.3),(0.6,-1.7),(0.7,2.05),(0.7,-0.65),(0.75,-1.1),
            (0.8,-0.3),(0.9,-1.5),(0.95,-0.8),(1.0,-0.05),(1.05,-1.3),(1.1,-0.6),(1.2,-1.0),(1.25,-1.7),
            (1.3,-0.4),(1.4,-0.9),(1.5,-1.25),(1.55,-0.5),(1.6,-1.6),(1.7,-0.85),(1.8,-0.3),(1.9,-1.1),
            (1.95,-1.7),(2.05,-0.6),(2.15,-1.4),(2.3,-0.8),(2.4,-1.2),(2.55,-1.6),(2.7,-0.9),(2.9,-1.3),
            (3.05,-1.0),(-1.2,0.2),(-0.9,0.7),(-0.6,0.95),(-1.0,0.15),(-0.75,0.05)]
WINE38_C = [(-1.45,0.62),(-1.1,0.55),(-0.85,0.6),(-0.7,0.45),(-0.4,0.15),(0.0,-0.25),(0.5,-0.6),(1.0,-0.82),
            (1.5,-0.95),(2.0,-1.0),(3.05,-1.0)]

# ---------------- Wine(x4,x5) ----------------
WINE45_B = [(-3.65,-2.7),(-2.6,-1.5),(-2.4,-0.55),(-2.3,-1.25),(-2.2,-0.8),(-2.0,-0.6),(-1.9,-1.1),(-1.8,-0.3),
            (-1.7,0.35),(-1.6,-0.9),(-1.5,-0.15),(-1.4,0.6),(-1.35,-1.4),(-1.3,0.1),(-1.2,-0.5),(-1.15,0.85),
            (-1.1,-1.0),(-1.0,-0.2),(-1.0,0.45),(-0.95,-1.6),(-0.9,0.15),(-0.85,-0.7),(-0.8,1.1),(-0.8,-0.1),
            (-0.75,-2.05),(-0.7,0.6),(-0.7,-0.4),(-0.65,-1.2),(-0.6,0.25),(-0.6,1.5),(-0.55,-0.8),(-0.5,0.0),
            (-0.5,0.9),(-0.45,-0.5),(-0.4,-1.5),(-0.4,0.4),(-0.35,1.2),(-0.3,-0.2),(-0.3,-0.9),(-0.25,0.65),
            (-0.2,-2.5),(-0.2,0.1),(-0.15,-0.6),(-0.1,1.5),(-0.1,-1.2),(-0.05,0.3),(0.0,-0.35),(0.0,0.8),
            (0.0,-2.3),(0.05,-0.9),(0.1,0.1),(0.1,1.1),(0.15,-1.5),(0.2,0.5),(0.2,-0.4),(0.25,1.7),(0.25,-1.0),
            (0.3,0.2),(0.3,-0.15),(0.35,0.9),(0.4,-0.7),(0.4,2.0),(0.45,0.4),(0.5,-0.25),(0.5,1.3),(0.55,-1.3),
            (0.6,0.6),(0.6,-0.5),(0.65,2.3),(0.7,1.0),(0.7,-0.1),(0.75,0.2),(0.8,1.6),(0.8,-0.8),(0.85,3.15),
            (0.9,0.5),(0.9,2.0),(0.95,-0.3),(1.0,1.2),(1.0,-1.3),(1.05,0.8),(1.1,2.2),(1.1,0.1),(1.15,1.5),
            (1.2,-0.6),(1.25,0.9),(1.3,1.9),(1.3,0.3),(1.4,-0.2),(1.4,1.4),(1.5,0.6),(1.55,2.6),(1.6,1.0),
            (1.7,0.2),(1.8,1.6),(1.9,0.8),(2.1,0.15),(2.3,1.2),(3.15,1.65),(3.15,2.7),(-1.25,-0.25),(0.35,-0.55),
            (-0.5,-0.95),(0.15,0.35),(-0.2,0.45),(0.55,0.05),(-0.6,-0.25),(0.85,0.05)]
WINE45_C = [(-3.65,-2.7),(-3.0,-2.0),(-2.0,-0.95),(-1.0,-0.2),(-0.8,-0.1),(-0.6,-0.15),(-0.4,-0.25),
            (-0.2,-0.22),(0.0,-0.1),(0.4,0.05),(0.7,0.15),(1.0,0.55),(1.5,1.1),(2.0,1.6),(2.5,2.1),(3.15,2.7)]

# ---------------- two_cluster ----------------
TWOC_L = [(-1.90,-1.54),(-1.84,-1.65),(-1.75,-0.70),(-1.62,-0.05),(-1.62,-1.71),(-1.64,-1.11),(-1.53,-1.64),
          (-1.48,-0.42),(-1.38,-1.21),(-1.34,-0.39),(-1.19,-0.25),(-1.24,-1.77),(-1.01,-1.83),(-0.61,-1.87),
          (-0.47,0.11),(-0.36,-0.06),(-0.26,-0.07),(-0.06,-1.31),(-0.28,-1.43),(-0.43,-1.39),(-0.20,-0.81),
          (-0.10,-0.44),(-0.24,-0.64),
          (-1.58,-0.75),(-1.55,-0.95),(-1.52,-1.25),(-1.50,-0.85),(-1.47,-1.05),(-1.45,-0.60),(-1.44,-1.45),
          (-1.42,-0.95),(-1.40,-0.78),(-1.38,-1.55),(-1.36,-1.10),(-1.35,-0.68),(-1.33,-0.88),(-1.31,-1.30),
          (-1.30,-0.55),(-1.28,-1.00),(-1.27,-1.45),(-1.25,-0.75),(-1.24,-1.15),(-1.22,-0.62),(-1.21,-0.92),
          (-1.20,-1.35),(-1.18,-0.50),(-1.17,-1.05),(-1.16,-0.80),(-1.15,-1.58),(-1.13,-0.65),(-1.12,-1.20),
          (-1.11,-0.95),(-1.10,-0.35),(-1.08,-0.72),(-1.07,-1.42),(-1.06,-1.10),(-1.05,-0.58),(-1.04,-0.85),
          (-1.03,-1.28),(-1.02,-0.98),(-1.00,-0.45),(-0.99,-1.62),(-0.98,-0.75),(-0.97,-1.15),(-0.96,-0.60),
          (-0.95,-0.90),(-0.94,-1.40),(-0.93,-0.30),(-0.92,-1.05),(-0.91,-0.68),(-0.90,-1.22),(-0.89,-0.82),
          (-0.88,-1.55),(-0.87,-0.50),(-0.86,-0.95),(-0.85,-1.30),(-0.84,-0.40),(-0.83,-0.72),(-0.82,-1.10),
          (-0.81,-0.88),(-0.80,-1.62),(-0.79,-0.58),(-0.78,-1.00),(-0.77,-1.35),(-0.76,-0.78),(-0.75,-0.25),
          (-0.74,-1.18),(-0.73,-0.92),(-0.72,-0.48),(-0.71,-1.48),(-0.70,-0.68),(-0.69,-1.05),(-0.68,-0.30),
          (-0.67,-0.85),(-0.66,-1.25),(-0.65,-0.60),(-0.64,-0.98),(-0.63,-1.40),(-0.62,-0.75),(-0.60,-0.45),
          (-0.59,-1.12),(-0.58,-0.90),(-0.57,-0.62),(-0.55,-1.30),(-0.54,-0.80),(-0.53,-0.35),(-0.52,-1.02),
          (-0.50,-0.70),(-0.49,-1.20),(-0.48,-0.52),(-0.46,-0.88),(-0.45,-1.45),(-0.44,-0.65),(-0.42,-1.05),
          (-0.41,-0.40),(-0.40,-0.82),(-0.38,-1.22),(-0.37,-0.58),(-0.35,-0.95),(-0.34,-0.25),(-0.33,-0.72),
          (-0.31,-1.10),(-0.30,-0.48),(-0.28,-0.88),(-0.27,-0.30),(-0.25,-1.00),(-0.23,-0.55),(-0.22,-0.85),
          (-0.19,-0.95),(-0.17,-0.40),(-0.15,-0.78),(-0.13,-0.60),(-1.70,-0.95),(-1.66,-1.25),(-1.60,-0.88),
          (-1.56,-1.40),(-1.35,-0.45),(-1.10,-0.60),(-0.95,-1.75),(-0.82,-1.45),(-0.70,-1.65),(-0.55,-1.55),
          (-1.15,-1.72),(-1.45,-1.20),(-1.26,-0.55)]
TWOC_L2 = [(-1.5,-1.1),(-1.45,-0.8),(-1.4,-1.3),(-1.35,-0.9),(-1.3,-1.15),(-1.25,-0.95),(-1.2,-0.7),(-1.15,-1.25),
           (-1.1,-0.85),(-1.05,-1.05),(-1.0,-0.65),(-0.97,-1.3),(-0.95,-0.5),(-0.92,-0.8),(-0.9,-1.0),(-0.88,-1.2),
           (-0.85,-0.62),(-0.82,-0.9),(-0.8,-1.4),(-0.78,-0.72),(-0.75,-1.1),(-0.72,-0.85),(-0.7,-1.3),(-0.68,-0.55),
           (-0.65,-0.8),(-0.62,-1.2),(-0.6,-0.95),(-0.58,-0.5),(-0.55,-1.05),(-0.52,-0.78),(-0.5,-1.35),(-0.47,-0.6),
           (-0.45,-1.0),(-0.42,-0.75),(-0.4,-1.15),(-0.37,-0.45),(-0.35,-0.7),(-0.32,-1.0),(-0.3,-0.6),(-0.27,-0.8),
           (-1.6,-1.0),(-1.55,-0.6),(-1.65,-0.8),(-1.42,-1.6),(-1.18,-1.48),(-0.98,-1.48),(-0.78,-1.55),(-1.05,-0.35),
           (-0.88,-0.25),(-0.65,-0.2)]
TWOC_R = [(-0.24,0.94),(-0.20,1.03),(-0.09,0.43),(0.02,1.01),(0.17,0.39),(0.18,-0.22),(0.39,0.00),(0.20,1.46),
          (0.43,1.59),(0.71,1.91),(0.82,1.66),(0.84,-0.24),(0.88,-0.13),(0.98,0.11),(1.43,1.85),(1.63,2.06),
          (1.84,0.86),(1.91,0.55),(1.76,1.17),(1.41,0.39),(1.25,0.33),
          (0.08,0.65),(0.12,0.85),(0.15,1.20),(0.22,0.58),(0.25,1.05),(0.28,0.30),(0.30,0.78),(0.33,1.25),
          (0.35,0.50),(0.38,0.95),(0.40,0.15),(0.42,1.10),(0.45,0.68),(0.47,0.35),(0.48,1.35),(0.50,0.88),
          (0.52,0.55),(0.54,1.02),(0.55,0.22),(0.57,0.75),(0.58,1.25),(0.60,0.45),(0.61,0.95),(0.63,1.48),
          (0.64,0.62),(0.66,0.82),(0.67,1.12),(0.68,0.30),(0.70,0.70),(0.71,1.00),(0.72,0.52),(0.74,1.30),
          (0.75,0.85),(0.76,0.10),(0.77,0.62),(0.78,1.05),(0.79,0.40),(0.80,0.78),(0.81,1.42),(0.82,0.92),
          (0.83,0.55),(0.85,1.18),(0.86,0.72),(0.87,0.25),(0.89,0.98),(0.90,0.60),(0.91,1.30),(0.92,0.82),
          (0.93,0.45),(0.95,1.08),(0.96,0.70),(0.97,1.55),(0.99,0.88),(1.00,0.35),(1.01,0.62),(1.02,1.20),
          (1.04,0.80),(1.05,0.50),(1.06,1.00),(1.08,1.38),(1.09,0.72),(1.10,0.20),(1.11,0.92),(1.12,0.58),
          (1.14,1.15),(1.15,0.80),(1.16,1.62),(1.18,0.45),(1.19,1.02),(1.20,0.68),(1.22,1.30),(1.23,0.88),
          (1.24,0.58),(1.26,1.10),(1.27,0.75),(1.29,1.45),(1.30,0.95),(1.31,0.60),(1.33,1.22),(1.34,0.82),
          (1.36,1.38),(1.37,0.70),(1.39,1.05),(1.40,1.62),(1.42,0.90),(1.44,1.28),(1.46,0.65),(1.47,1.12),
          (1.49,1.48),(1.50,0.85),(1.52,1.35),(1.54,1.05),(1.56,0.72),(1.58,1.25),(1.60,1.55),(1.62,0.98),
          (1.64,1.30),(1.66,1.42),(1.68,1.20),(1.70,1.30),(1.72,1.25),(1.75,1.45),(1.55,1.68),(1.35,1.72),
          (1.25,1.55),(1.05,1.62),(0.90,1.70),(0.60,1.70),(0.35,1.25),(0.10,1.05),(0.05,0.45),(0.30,0.10),
          (0.55,-0.05),(0.65,0.05),(0.95,-0.02),(1.15,0.30),(1.35,0.40),(1.55,0.55),(1.70,0.75),(1.60,0.85)]
TWOC_R2 = [(0.3,0.6),(0.35,0.9),(0.4,0.45),(0.45,1.0),(0.5,0.7),(0.55,1.2),(0.6,0.85),(0.62,0.55),(0.65,1.05),
           (0.7,0.9),(0.72,1.2),(0.75,0.65),(0.78,0.95),(0.8,1.25),(0.82,0.7),(0.85,1.0),(0.88,0.5),(0.9,0.85),
           (0.93,1.15),(0.95,0.55),(0.98,1.0),(1.0,0.75),(1.02,1.4),(1.05,0.9),(1.08,0.6),(1.1,1.1),(1.13,0.85),
           (1.16,1.3),(1.2,0.95),(1.22,0.5),(1.25,1.2),(1.28,0.85),(1.32,1.05),(1.35,1.3),(1.38,0.8),(1.42,1.15),
           (1.45,0.95),(1.5,1.2),(1.55,0.9),(1.6,1.15),(0.45,0.2),(0.6,0.1),(0.85,0.2),(1.0,0.15),(0.5,1.5),
           (0.75,1.45),(1.3,1.6),(1.45,1.45),(1.65,1.1),(1.8,1.3)]
TWOC_C = [(-2.0,-1.34),(-1.7,-1.31),(-1.4,-1.21),(-1.1,-1.05),(-0.8,-0.82),(-0.5,-0.52),(-0.3,-0.30),(-0.1,-0.06),
          (0.1,0.19),(0.3,0.41),(0.5,0.61),(0.7,0.78),(0.9,0.93),(1.1,1.08),(1.3,1.22),(1.5,1.33),(1.7,1.40),
          (1.9,1.44),(2.1,1.45),(2.3,1.41)]

# ---------------- Twomoons ----------------
MOON_B = [(1.00,0.02),(1.08,0.05),(0.93,-0.06),(1.04,-0.11),(0.93,0.03),(1.04,-0.02),(0.95,0.19),(1.03,0.06),
          (0.94,0.27),(1.02,0.14),(0.90,0.19),(1.09,0.15),(0.88,0.28),(1.07,0.24),(0.95,0.17),(1.03,0.37),
          (0.92,0.25),(1.00,0.45),(0.94,0.36),(1.02,0.39),(0.91,0.44),(0.99,0.47),(0.84,0.36),(0.95,0.31),
          (0.80,0.44),(0.91,0.39),(0.82,0.60),(0.90,0.47),(0.77,0.67),(0.85,0.54),(0.73,0.59),(0.92,0.55),
          (0.68,0.66),(0.87,0.62),(0.75,0.55),(0.83,0.75),(0.69,0.62),(0.77,0.82),(0.71,0.73),(0.79,0.76),
          (0.64,0.79),(0.72,0.82),(0.57,0.71),(0.68,0.66),(0.50,0.76),(0.61,0.71),(0.52,0.92),(0.60,0.79),
          (0.45,0.97),(0.53,0.84),(0.41,0.89),(0.60,0.85),(0.33,0.93),(0.52,0.89),(0.40,0.82),(0.48,1.02),
          (0.32,0.85),(0.40,1.05),(0.34,0.96),(0.42,0.99),(0.26,0.99),(0.34,1.02),(0.19,0.91),(0.30,0.86),
          (0.10,0.92),(0.21,0.87),(0.12,1.08),(0.20,0.95),(0.04,1.10),(0.12,0.97),(0.00,1.02),(0.19,0.98),
          (-0.09,1.02),(0.10,0.98),(-0.02,0.91),(0.06,1.11),(-0.11,0.91),(-0.03,1.11),(-0.09,1.02),(-0.01,1.05),
          (-0.17,1.00),(-0.09,1.03),(-0.24,0.92),(-0.13,0.87),(-0.33,0.91),(-0.22,0.86),(-0.31,1.07),(-0.23,0.94),
          (-0.39,1.04),(-0.31,0.91),(-0.43,0.96),(-0.24,0.92),(-0.51,0.93),(-0.32,0.89),(-0.44,0.82),(-0.36,1.02),
          (-0.52,0.78),(-0.44,0.98),(-0.50,0.89),(-0.42,0.92),(-0.57,0.84),(-0.49,0.87),(-0.64,0.76),(-0.53,0.71),
          (-0.71,0.71),(-0.60,0.66),(-0.69,0.87),(-0.61,0.74),(-0.76,0.81),(-0.68,0.68),(-0.80,0.73),(-0.61,0.69),
          (-0.86,0.66),(-0.67,0.62),(-0.79,0.55),(-0.71,0.75),(-0.84,0.48),(-0.76,0.68),(-0.82,0.59),(-0.74,0.62),
          (-0.87,0.52),(-0.79,0.55),(-0.94,0.44),(-0.83,0.39),(-0.98,0.36),(-0.87,0.31),(-0.96,0.52),(-0.88,0.39),
          (-0.99,0.44),(-0.91,0.31),(-1.03,0.36),(-0.84,0.32),(-1.06,0.28),(-0.87,0.24),(-0.99,0.17),(-0.91,0.37),
          (-1.01,0.08),(-0.93,0.28),(-0.99,0.19),(-0.91,0.22),(-1.00,0.11),(-0.92,0.14),(-1.07,0.03),(-0.96,-0.02),
          (-1.07,-0.06),(-0.96,-0.11),(-1.05,0.10),(-0.97,-0.03),
          (0.25,1.24),(0.05,1.22),(-0.35,1.15),(-1.02,-0.13),(1.10,0.20),(0.90,-0.08),(0.55,1.05),(-0.55,1.00),
          (-0.80,0.85),(0.75,0.95),(-0.20,0.78),(0.30,0.78),(0.80,0.40),(-0.75,0.45),(1.12,0.30),(-1.10,0.25),
          (-0.15,1.13),(0.40,1.12),(-0.65,0.55),(0.62,0.58)]
MOON_B2 = [(1.05,-0.03),(0.94,0.10),(1.12,0.08),(0.87,0.11),(1.01,0.21),(0.96,0.00),(1.06,0.32),(0.88,0.31),
           (1.07,0.10),(0.91,0.32),(1.00,0.23),(0.89,0.36),(1.04,0.42),(0.80,0.36),(0.94,0.46),(0.86,0.33),
           (0.97,0.56),(0.79,0.55),(0.93,0.42),(0.80,0.56),(0.89,0.47),(0.73,0.67),(0.91,0.65),(0.67,0.59),
           (0.76,0.76),(0.71,0.55),(0.82,0.78),(0.58,0.83),(0.77,0.62),(0.64,0.76),(0.66,0.72),(0.55,0.85),
           (0.73,0.83),(0.42,0.82),(0.56,0.92),(0.51,0.71),(0.54,0.99),(0.36,0.98),(0.55,0.77),(0.34,0.94),
           (0.43,0.85),(0.32,0.98),(0.42,0.99),(0.18,0.93),(0.32,1.03),(0.19,0.85),(0.30,1.08),(0.12,1.07),
           (0.22,0.87),(0.09,1.01),(0.18,0.92),(-0.02,1.06),(0.16,1.04),(-0.08,0.98),(-0.02,1.08),(-0.07,0.87),
           (0.04,1.10),(-0.23,1.08),(-0.04,0.87),(-0.17,1.01),(-0.17,0.91),(-0.28,1.04),(-0.10,1.02),(-0.42,0.93),
           (-0.28,1.03),(-0.33,0.82),(-0.30,1.02),(-0.48,1.01),(-0.29,0.80),(-0.50,0.91),(-0.41,0.82),(-0.52,0.95),
           (-0.42,0.88),(-0.66,0.82),(-0.52,0.92),(-0.64,0.66),(-0.53,0.89),(-0.71,0.88),(-0.59,0.62),(-0.72,0.76),
           (-0.63,0.67),(-0.80,0.74),(-0.62,0.72),(-0.86,0.66),(-0.77,0.69),(-0.82,0.48),(-0.71,0.71),(-0.94,0.63),
           (-0.75,0.42),(-0.88,0.56),(-0.84,0.39),(-0.95,0.52),(-0.77,0.50),(-1.04,0.36),(-0.90,0.46),(-0.95,0.25),
           (-0.87,0.40),(-1.05,0.39),(-0.86,0.18),(-1.02,0.24),(-0.93,0.15),(-1.04,0.28),(-0.87,0.17),(-1.11,0.11),
           (-0.97,0.21),(-1.03,-0.09),(-0.92,0.14),(-1.10,0.13)]
MOON_O = [(0.03,0.47),(-0.09,0.52),(0.10,0.48),(-0.02,0.41),(0.10,0.39),(-0.02,0.32),(0.06,0.52),(0.00,0.43),
          (0.07,0.44),(0.01,0.35),(0.09,0.38),(-0.06,0.27),(0.11,0.29),(-0.04,0.18),(0.07,0.13),(-0.02,0.34),
          (0.10,0.05),(0.01,0.26),(0.09,0.13),(-0.03,0.18),(0.12,0.05),(0.00,0.10),(0.19,0.06),(0.07,-0.01),
          (0.23,-0.02),(0.11,-0.09),(0.19,0.11),(0.13,0.02),(0.24,0.04),(0.18,-0.05),(0.26,-0.02),(0.11,-0.13),
          (0.31,-0.09),(0.16,-0.20),(0.27,-0.25),(0.18,-0.04),(0.33,-0.32),(0.24,-0.11),(0.32,-0.24),(0.20,-0.19),
          (0.39,-0.30),(0.27,-0.25),(0.46,-0.29),(0.34,-0.36),(0.53,-0.34),(0.41,-0.41),(0.49,-0.21),(0.43,-0.30),
          (0.56,-0.26),(0.50,-0.35),(0.58,-0.32),(0.43,-0.43),(0.66,-0.36),(0.51,-0.47),(0.62,-0.52),(0.53,-0.31),
          (0.70,-0.55),(0.61,-0.34),(0.69,-0.47),(0.57,-0.42),(0.77,-0.50),(0.65,-0.45),(0.84,-0.49),(0.72,-0.56),
          (0.93,-0.50),(0.81,-0.57),(0.89,-0.37),(0.83,-0.46),(0.97,-0.39),(0.91,-0.48),(0.99,-0.45),(0.84,-0.56),
          (1.08,-0.45),(0.93,-0.56),(1.04,-0.61),(0.95,-0.40),(1.13,-0.61),(1.04,-0.40),(1.12,-0.53),(1.00,-0.48),
          (1.20,-0.51),(1.08,-0.46),(1.27,-0.50),(1.15,-0.57),(1.36,-0.49),(1.24,-0.56),(1.32,-0.36),(1.26,-0.45),
          (1.40,-0.33),(1.34,-0.42),(1.42,-0.39),(1.27,-0.50),(1.50,-0.36),(1.35,-0.47),(1.46,-0.52),(1.37,-0.31),
          (1.54,-0.48),(1.45,-0.27),(1.53,-0.40),(1.41,-0.35),(1.60,-0.35),(1.48,-0.30),(1.67,-0.34),(1.55,-0.41),
          (1.74,-0.29),(1.62,-0.36),(1.70,-0.16),(1.64,-0.25),(1.77,-0.10),(1.71,-0.19),(1.79,-0.16),(1.64,-0.27),
          (1.85,-0.09),(1.70,-0.20),(1.81,-0.25),(1.72,-0.04),(1.86,-0.18),(1.77,0.03),(1.85,-0.10),(1.73,-0.05),
          (1.90,-0.03),(1.78,0.02),(1.97,-0.02),(1.85,-0.09),(2.01,0.06),(1.89,-0.01),(1.97,0.19),(1.91,0.10),
          (2.00,0.27),(1.94,0.18),(2.02,0.21),(1.87,0.10),(2.05,0.29),(1.90,0.18),(2.01,0.13),(1.92,0.34),
          (2.03,0.22),(1.94,0.43),(2.02,0.30),(1.90,0.35),(2.03,0.38),(1.91,0.43),(2.10,0.39),(1.98,0.32),
          (2.10,0.48),(1.98,0.41),(2.06,0.61),(2.00,0.52),
          (1.90,0.68),(2.12,0.57),(0.77,-0.68),(-0.10,0.45),(0.05,0.20),(0.40,-0.05),(0.60,-0.15),(1.30,-0.62),
          (1.45,-0.20),(1.60,-0.05),(2.15,0.40),(0.15,0.30),(1.05,-0.35),(0.95,-0.62),(1.75,0.10)]
MOON_O2 = [(-0.03,0.33),(0.08,0.56),(-0.10,0.55),(0.10,0.25),(-0.03,0.39),(0.06,0.30),(-0.04,0.34),(0.14,0.32),
           (-0.10,0.26),(0.07,0.28),(0.02,0.07),(0.13,0.30),(-0.02,0.21),(0.17,0.00),(0.04,0.14),(0.16,-0.03),
           (0.05,0.10),(0.23,0.08),(0.04,-0.06),(0.18,0.04),(0.13,-0.17),(0.29,-0.01),(0.11,-0.02),(0.30,-0.23),
           (0.22,-0.16),(0.31,-0.25),(0.20,-0.12),(0.44,-0.20),(0.20,-0.26),(0.34,-0.16),(0.36,-0.42),(0.47,-0.19),
           (0.29,-0.20),(0.55,-0.46),(0.42,-0.32),(0.51,-0.41),(0.48,-0.33),(0.66,-0.35),(0.42,-0.41),(0.64,-0.34),
           (0.59,-0.55),(0.70,-0.32),(0.60,-0.36),(0.79,-0.57),(0.66,-0.43),(0.83,-0.55),(0.72,-0.42),(0.90,-0.44),
           (0.75,-0.51),(0.89,-0.41),(0.84,-0.62),(1.04,-0.40),(0.86,-0.41),(1.05,-0.62),(1.00,-0.48),(1.09,-0.57),
           (0.98,-0.44),(1.25,-0.45),(1.01,-0.51),(1.15,-0.41),(1.19,-0.61),(1.30,-0.38),(1.12,-0.39),(1.39,-0.57),
           (1.26,-0.43),(1.35,-0.52),(1.32,-0.36),(1.50,-0.38),(1.26,-0.44),(1.48,-0.31),(1.43,-0.52),(1.54,-0.29),
           (1.44,-0.25),(1.63,-0.46),(1.50,-0.32),(1.66,-0.36),(1.55,-0.23),(1.73,-0.25),(1.56,-0.26),(1.70,-0.16),
           (1.65,-0.37),(1.82,-0.08),(1.64,-0.09),(1.83,-0.30),(1.75,-0.09),(1.84,-0.18),(1.73,-0.05),(1.96,0.00),
           (1.72,-0.06),(1.86,0.04),(1.86,-0.09),(1.97,0.14),(1.79,0.13),(2.01,0.00),(1.88,0.14),(1.97,0.05),
           (1.89,0.26),(2.07,0.24),(1.83,0.18),(2.00,0.36),(1.95,0.15),(2.06,0.38),(1.89,0.46),(2.08,0.25),
           (1.95,0.39),(2.05,0.39),(1.94,0.52),(2.12,0.50)]
MOON_CB = [(-1.21,0.05),(-1.10,0.13),(-1.0,0.2),(-0.91,0.30),(-0.81,0.47),(-0.72,0.62),(-0.64,0.75),(-0.5,0.84),
           (-0.38,0.89),(-0.2,0.96),(0.0,1.01),(0.25,0.98),(0.51,0.88),(0.6,0.83),(0.68,0.75),(0.78,0.62),
           (0.85,0.49),(0.93,0.33),(1.02,0.22),(1.17,0.12)]
MOON_CO = [(-0.11,0.48),(0.0,0.30),(0.13,0.07),(0.25,-0.11),(0.42,-0.29),(0.59,-0.42),(0.85,-0.48),(1.1,-0.48),
           (1.36,-0.43),(1.57,-0.29),(1.72,-0.13),(1.83,0.07),(1.91,0.23),(2.04,0.32),(2.19,0.32)]

# ---------------- Five_cluster ----------------
FIVE_O = [(-2.39,1.10),(-2.27,-0.08),(-2.2,0.15),(-2.18,1.42),(-2.3,0.62),(-2.25,0.85),(-2.22,0.98),(-2.2,0.48),
          (-2.15,0.75),(-2.12,1.1),(-2.1,0.6),(-2.08,0.35),(-2.05,0.9),(-2.03,1.25),(-2.0,0.7),(-1.98,0.5),
          (-1.97,1.05),(-1.95,0.82),(-1.93,0.3),(-1.92,0.62),(-1.9,1.2),(-1.88,0.95),(-1.87,0.45),(-1.85,0.75),
          (-1.84,1.35),(-1.82,0.58),(-1.8,0.88),(-1.79,0.2),(-1.78,1.08),(-1.76,0.68),(-1.75,0.4),(-1.74,0.95),
          (-1.72,1.5),(-1.71,0.55),(-1.7,0.78),(-1.68,1.2),(-1.67,0.3),(-1.66,0.65),(-1.65,1.0),(-1.63,0.48),
          (-1.62,0.85),(-1.6,1.3),(-1.59,0.6),(-1.58,0.15),(-1.56,0.92),(-1.55,0.72),(-1.53,1.1),(-1.52,0.4),
          (-1.5,0.82),(-1.48,0.58),(-1.47,1.25),(-1.45,0.95),(-1.43,0.35),(-1.42,0.7),(-1.4,1.05),(-1.38,0.5),
          (-1.36,0.85),(-1.35,1.4),(-1.33,0.62),(-1.3,0.25),(-1.28,0.92),(-1.25,0.75),(-1.22,1.15),(-1.2,0.45),
          (-1.18,0.65),(-1.15,0.98),(-1.12,0.82),(-1.45,-0.05),(-1.6,1.52),(-1.9,1.35),(-1.3,1.2),(-2.05,0.2),
          (-1.75,0.05),(-1.95,0.72),(-1.82,0.7),(-1.68,0.85),(-1.55,0.55),(-1.62,0.72),(-1.78,0.55),
          (-1.2,0.85),(-1.15,1.05),(-1.12,1.25),(-1.1,0.7),(-1.08,0.95),(-1.05,1.15),(-1.02,0.55),(-1.0,1.35),
          (-0.98,0.85),(-0.96,1.05),(-0.95,1.82),(-0.93,0.65),(-0.92,1.22),(-0.9,2.15),(-0.9,0.95),(-0.88,1.45),
          (-0.86,0.75),(-0.85,1.1),(-0.83,0.5),(-0.82,1.3),(-0.8,0.9),(-0.79,1.6),(-0.77,1.02),(-0.76,0.68),
          (-0.75,1.2),(-0.73,0.85),(-0.72,1.45),(-0.7,1.05),(-0.69,0.6),(-0.68,1.3),(-0.66,0.92),(-0.65,1.65),
          (-0.64,1.12),(-0.62,0.75),(-0.61,1.4),(-0.6,0.98),(-0.58,0.45),(-0.57,1.2),(-0.56,0.85),(-0.55,1.55),
          (-0.53,1.05),(-0.52,0.65),(-0.5,1.3),(-0.49,0.92),(-0.47,1.15),(-0.46,0.55),(-0.45,1.45),(-0.43,0.8),
          (-0.42,1.05),(-0.4,1.25),(-0.38,0.7),(-0.37,0.95),(-0.35,1.88),(-0.33,1.1),(-0.32,0.6),(-0.3,1.35),
          (-0.28,0.85),(-0.26,1.0),(-0.25,0.62),(-0.22,1.2),(-0.2,0.75),(-0.18,0.95),(-0.15,1.3),(-0.13,0.65),
          (-0.1,0.85),(-0.25,1.92),(-0.08,1.5),(-0.5,0.4),(-0.7,0.42),(-0.4,0.3),(-0.95,0.45),(-1.05,2.05),
          (-0.6,1.8),(-0.3,0.52),(-0.72,1.0),(-0.62,1.15),(-0.55,0.95),(-0.8,1.2),(-0.45,1.0),
          (0.2,0.75),(0.22,1.0),(0.25,0.55),(0.27,1.15),(0.28,0.85),(0.3,0.4),(0.32,0.95),(0.35,0.7),(0.36,1.25),
          (0.38,0.5),(0.4,0.85),(0.42,1.05),(0.43,0.25),(0.45,0.65),(0.47,0.95),(0.48,1.35),(0.5,0.55),(0.52,0.8),
          (0.53,0.12),(0.55,1.1),(0.56,0.68),(0.58,0.9),(0.6,0.4),(0.61,1.2),(0.63,0.75),(0.64,1.0),(0.66,0.05),
          (0.67,0.58),(0.68,0.88),(0.7,1.45),(0.71,0.7),(0.73,0.98),(0.74,0.35),(0.75,0.82),(0.77,1.15),(0.78,0.6),
          (0.8,1.75),(0.8,0.9),(0.82,0.45),(0.83,1.05),(0.85,0.72),(0.86,1.3),(0.87,0.2),(0.88,0.85),(0.9,0.55),
          (0.91,1.0),(0.93,1.68),(0.93,0.75),(0.95,0.35),(0.96,0.92),(0.97,1.2),(0.98,0.02),(1.0,0.62),(1.01,0.85),
          (1.03,1.1),(1.04,0.45),(1.06,0.78),(1.08,1.35),(1.1,0.95),(1.11,0.6),(1.13,0.82),(1.15,1.05),(1.17,0.4),
          (1.18,0.7),(1.2,1.6),(1.22,0.9),(1.24,0.55),(1.25,1.2),(1.27,0.75),(1.3,0.3),(1.32,1.0),(1.35,0.65),
          (1.38,1.38),(1.4,0.85),(1.45,0.55),(1.5,0.33),(1.42,0.28),(0.9,0.1),(0.75,0.15),(1.05,1.5),(0.6,1.5),
          (0.85,0.95),(0.7,0.8),(0.95,0.6),(0.65,0.9),(1.0,1.0)]
FIVE_O2 = [(-2.1,0.9),(-2.0,1.1),(-1.95,0.55),(-1.9,0.85),(-1.85,0.62),(-1.8,1.0),(-1.77,0.8),(-1.73,0.62),
           (-1.7,1.05),(-1.67,0.9),(-1.64,0.58),(-1.61,0.95),(-1.58,0.78),(-1.55,1.2),(-1.52,0.65),(-1.49,0.98),
           (-1.46,0.72),(-1.43,0.88),(-1.4,0.55),(-1.37,1.15),(-1.33,0.8),(-1.28,0.6),(-1.25,1.0),(-1.82,0.42),
           (-1.7,0.45),(-1.55,0.38),(-2.15,1.2),(-1.98,1.3),(-1.62,1.15),(-1.4,1.3),
           (-1.1,1.2),(-1.0,0.95),(-0.95,1.3),(-0.9,0.8),(-0.87,1.2),(-0.84,0.95),(-0.8,1.45),(-0.77,1.25),
           (-0.74,0.75),(-0.71,1.15),(-0.68,0.9),(-0.66,1.4),(-0.63,1.0),(-0.6,1.25),(-0.58,0.7),(-0.56,1.1),
           (-0.53,1.35),(-0.5,0.85),(-0.48,1.2),(-0.45,0.7),(-0.42,1.35),(-0.4,0.9),(-0.36,1.15),(-0.33,0.8),
           (-0.3,1.05),(-0.85,1.65),(-0.7,1.7),(-0.5,1.6),(-0.95,0.65),(-0.2,1.1),
           (0.35,0.9),(0.42,0.6),(0.46,1.15),(0.5,0.75),(0.55,0.95),(0.58,0.55),(0.62,1.05),(0.65,0.7),
           (0.68,1.25),(0.72,0.85),(0.75,0.5),(0.78,1.0),(0.82,0.7),(0.85,1.15),(0.88,0.6),(0.92,0.9),
           (0.95,1.3),(0.98,0.75),(1.02,0.98),(1.05,0.65),(1.08,1.2),(1.12,0.8),(1.15,0.55),(1.2,0.95),
           (1.25,0.7),(1.3,1.1),(0.7,0.3),(0.85,0.4),(1.1,0.35),(0.55,1.3)]
FIVE_B = [(-0.2,-0.47),(-0.05,-1.0),(0.0,-0.85),(0.02,-1.2),(0.05,-0.95),(0.08,-1.1),(0.1,-0.8),(0.12,-1.45),
          (0.14,-1.0),(0.15,-1.25),(0.17,-0.7),(0.18,-1.12),(0.2,-0.9),(0.21,-1.5),(0.22,-1.3),(0.24,-1.05),
          (0.25,-0.6),(0.26,-0.82),(0.28,-1.2),(0.29,-1.4),(0.3,-0.95),(0.31,-0.72),(0.33,-1.1),(0.34,-1.6),
          (0.35,-0.85),(0.36,-1.3),(0.37,-1.0),(0.38,-0.55),(0.4,-1.18),(0.41,-0.78),(0.42,-1.45),(0.43,-0.95),
          (0.44,-1.05),(0.45,-0.65),(0.46,-1.25),(0.47,-0.88),(0.48,-1.55),(0.49,-1.12),(0.5,-0.75),(0.51,-0.98),
          (0.52,-1.35),(0.53,-0.45),(0.54,-1.05),(0.55,-0.82),(0.56,-1.2),(0.57,-1.68),(0.58,-0.92),(0.59,-1.4),
          (0.6,-0.62),(0.61,-1.1),(0.62,-0.85),(0.63,-1.28),(0.64,-0.3),(0.65,-1.0),(0.66,-0.72),(0.67,-1.5),
          (0.68,-1.15),(0.69,-0.9),(0.7,-0.55),(0.71,-1.35),(0.72,-1.05),(0.73,-0.8),(0.74,-1.22),(0.75,-1.62),
          (0.76,-0.95),(0.77,-0.65),(0.78,-1.12),(0.79,-1.42),(0.8,-0.88),(0.81,-0.4),(0.82,-1.3),(0.83,-1.02),
          (0.84,-0.75),(0.85,-1.55),(0.86,-1.18),(0.87,-0.92),(0.88,-0.6),(0.89,-1.38),(0.9,-1.08),(0.91,-0.82),
          (0.92,-1.25),(0.93,-0.5),(0.94,-1.0),(0.95,-1.7),(0.96,-0.78),(0.97,-1.15),(0.98,-1.45),(0.99,-0.9),
          (1.0,-0.65),(1.01,-1.2),(1.02,-1.02),(1.04,-0.8),(1.05,-1.35),(1.06,-0.95),(1.08,-1.1),(1.1,-0.7),
          (1.11,-1.28),(1.12,-0.88),(1.14,-1.05),(1.15,-1.5),(1.17,-0.75),(1.18,-1.18),(1.2,-0.95),(1.22,-0.6),
          (1.23,-1.3),(1.25,-1.05),(1.27,-0.82),(1.28,-1.6),(1.3,-1.15),(1.32,-0.9),(1.35,-1.25),(1.37,-0.7),
          (1.4,-1.02),(1.42,-1.1),(0.58,-1.86),(0.55,-1.82),(0.85,-0.0),(0.75,-0.2),(0.9,-0.12),(0.45,-0.3),
          (0.28,-0.5),(0.65,-1.72),(0.35,-1.45),(0.15,-0.55),(1.25,-1.75),(1.1,-1.6),(1.3,-0.55),(1.0,-0.35),
          (0.6,-0.2),(0.05,-1.4),(0.12,-1.32),(0.4,-1.68),(0.82,-1.75),(0.7,-1.85),(1.18,-0.4),(1.35,-1.45),
          (0.5,-1.45),(0.25,-0.98),(0.68,-0.42),(0.92,-1.6),(1.05,-0.55),(0.38,-0.7),(0.62,-1.55),(0.78,-0.3),
          (0.7,-1.0),(0.75,-1.1),(0.8,-1.05),(0.65,-1.12),(0.6,-0.98),(0.85,-0.9),(0.72,-0.9),(0.9,-1.2),
          (0.55,-1.1),(0.68,-1.25),(0.82,-1.2),(0.58,-0.75),(0.95,-0.95),(0.62,-1.35),(0.78,-0.85)]
FIVE_B2 = [(0.3,-1.02),(0.35,-1.15),(0.4,-0.92),(0.45,-1.38),(0.48,-0.68),(0.52,-1.18),(0.55,-0.92),(0.57,-1.45),
           (0.6,-1.22),(0.62,-0.7),(0.63,-1.05),(0.65,-0.82),(0.66,-1.38),(0.68,-0.98),(0.7,-1.18),(0.71,-0.72),
           (0.73,-1.45),(0.74,-1.0),(0.76,-0.85),(0.77,-1.28),(0.79,-1.08),(0.8,-0.62),(0.81,-1.5),(0.83,-0.95),
           (0.84,-1.22),(0.86,-0.8),(0.87,-1.4),(0.88,-1.02),(0.9,-0.7),(0.91,-1.3),(0.93,-0.88),(0.94,-1.15),
           (0.96,-1.52),(0.97,-0.62),(0.99,-1.05),(1.0,-1.3),(1.03,-0.9),(1.05,-1.15),(1.07,-0.68),(1.09,-1.42),
           (1.12,-1.0),(1.15,-1.22),(1.17,-0.9),(1.2,-1.4),(1.22,-1.12),(1.26,-0.72),(1.28,-0.98),(1.31,-1.35),
           (1.33,-0.62),(1.38,-0.95),(0.1,-1.05),(0.18,-0.92),(0.22,-1.18),(0.27,-0.72),(0.32,-1.32),(0.42,-1.58),
           (0.5,-0.55),(0.54,-1.6),(0.64,-0.5),(0.69,-1.6),(0.76,-0.45),(0.86,-1.65),(0.98,-0.48),(1.02,-1.6),
           (1.12,-0.52),(1.16,-1.35),(0.44,-0.82),(0.58,-1.3),(0.9,-0.95),(0.74,-1.32)]
FIVE_G = [(-2.4,-0.77),(-2.1,-0.68),(-2.05,-1.25),(-2.02,-1.05),(-1.98,-1.42),(-1.95,-1.62),(-1.93,-1.66),
          (-1.9,-0.6),(-1.88,-1.35),(-1.87,-1.15),(-1.85,-1.05),(-1.83,-0.9),(-1.82,-1.25),(-1.8,-1.5),
          (-1.78,-1.58),(-1.76,-1.0),(-1.75,-0.82),(-1.74,-1.4),(-1.72,-1.15),(-1.71,-0.55),(-1.7,-1.3),
          (-1.68,-0.88),(-1.67,-1.2),(-1.65,-1.48),(-1.64,-1.02),(-1.62,-0.92),(-1.6,-1.35),(-1.58,-1.1),
          (-1.57,-0.68),(-1.55,-1.25),(-1.53,-1.62),(-1.52,-0.98),(-1.5,-1.4),(-1.48,-1.15),(-1.47,-1.62),
          (-1.45,-0.8),(-1.43,-1.3),(-1.42,-0.52),(-1.4,-1.45),(-1.39,-1.05),(-1.38,-0.58),(-1.37,-1.38),
          (-1.35,-1.2),(-1.33,-1.42),(-1.3,-1.25),(-1.28,-0.82),(-1.25,-1.3),(-1.2,-1.05),(-1.17,-1.08),
          (-1.9,-1.0),(-2.0,-0.9),(-1.65,-1.55),(-1.55,-0.85),(-1.45,-1.0),(-1.35,-0.95),(-1.6,-0.62)]
FIVE_CO = [(-2.4,1.1),(-2.2,0.9),(-2.0,0.77),(-1.8,0.72),(-1.6,0.73),(-1.4,0.8),(-1.2,0.92),(-1.0,1.04),
           (-0.8,1.1),(-0.6,1.1),(-0.4,1.07),(-0.2,1.02),(0.0,0.96),(0.2,0.9),(0.4,0.85),(0.6,0.82),(0.8,0.8),
           (1.0,0.8),(1.2,0.83),(1.35,0.88),(1.52,1.04)]
FIVE_CB = [(-0.2,-0.47),(0.0,-0.6),(0.2,-0.72),(0.4,-0.85),(0.55,-0.98),(0.58,-1.02),(0.6,-0.93),(0.65,-0.95),
           (0.75,-0.98),(0.8,-1.0),(0.9,-0.96),(1.1,-1.0),(1.25,-1.05),(1.42,-1.1)]
FIVE_CG = [(-2.4,-0.77),(-2.2,-1.0),(-2.05,-1.2),(-1.9,-1.3),(-1.83,-1.3),(-1.8,-1.2),(-1.77,-1.05),
           (-1.72,-1.05),(-1.65,-1.15),(-1.55,-1.25),(-1.45,-1.22),(-1.35,-1.17),(-1.25,-1.12),(-1.15,-1.08)]

PANELS = [
    dict(title="Iris(x1,x2)", pts=[(IRIS12_B, "b"), (IRIS12_O, "o")], curves=[IRIS12_CB, IRIS12_CO],
         xt=[-2, -1, 0, 1, 2], yt=[-2, -1, 0, 1, 2, 3], xf="d", yf="d"),
    dict(title="Iris(x2,x3)", pts=[(IRIS23_B, "b"), (IRIS23_O, "o")], curves=[IRIS23_CB, IRIS23_CO],
         xt=[2.0, 2.5, 3.0, 3.5, 4.0, 4.5], yt=[1, 2, 3, 4, 5, 6, 7], xf=".1f", yf="d"),
    dict(title="Iris(x3,x4)", pts=[(IRIS34_B, "b")], curves=[IRIS34_C],
         xt=[1, 2, 3, 4, 5, 6, 7], yt=[0.0, 0.5, 1.0, 1.5, 2.0, 2.5], xf="d", yf=".1f"),
    dict(title="seeds(x1,x3)", pts=[(SEEDS13_B, "b")], curves=[SEEDS13_C],
         xt=[0.0, 0.2, 0.4, 0.6, 0.8, 1.0], yt=[0.0, 0.2, 0.4, 0.6, 0.8, 1.0], xf=".1f", yf=".1f"),
    dict(title="seeds(x3,x4)", pts=[(SEEDS34_B, "b")], curves=[SEEDS34_C],
         xt=[-2, -1, 0, 1, 2], yt=[-1.5, -1.0, -0.5, 0.0, 0.5, 1.0, 1.5, 2.0, 2.5], xf="d", yf=".1f"),
    dict(title="seeds(x1,x6)", pts=[(SEEDS16_B, "b")], curves=[SEEDS16_C],
         xt=[-1.5, -1.0, -0.5, 0.0, 0.5, 1.0, 1.5, 2.0], yt=[-2, -1, 0, 1, 2, 3], xf=".1f", yf="d"),
    dict(title="Glass(x1,x2)", pts=[(GLASS12_B, "b")], curves=[GLASS12_C],
         xt=[0.0, 0.2, 0.4, 0.6, 0.8, 1.0], yt=[0.0, 0.2, 0.4, 0.6, 0.8, 1.0], xf=".1f", yf=".1f"),
    dict(title="Glass(x2,x3)", pts=[(GLASS23_B, "b")], curves=[GLASS23_C],
         xt=[-2, -1, 0, 1, 2, 3, 4, 5], yt=[-3, -2, -1, 0, 1, 2, 3, 4, 5], xf="d", yf="d"),
    dict(title="Glass(x1,x4)", pts=[(GLASS14_B, "b")], curves=[GLASS14_C],
         xt=[-1.5, -1.0, -0.5, 0.0, 0.5, 1.0, 1.5], yt=[-2.0, -1.5, -1.0, -0.5, 0.0, 0.5, 1.0], xf=".1f", yf=".1f"),
    dict(title="Wine(x2,x3)", pts=[(WINE23_B, "b")], curves=[WINE23_C],
         xt=[-2, -1, 0, 1, 2], yt=[-1, 0, 1, 2, 3], xf="d", yf="d"),
    dict(title="Wine(x3,x8)", pts=[(WINE38_B, "b")], curves=[WINE38_C],
         xt=[-1, 0, 1, 2, 3], yt=[-2, -1, 0, 1, 2, 3], xf="d", yf="d"),
    dict(title="Wine(x4,x5)", pts=[(WINE45_B, "b")], curves=[WINE45_C],
         xt=[-4, -3, -2, -1, 0, 1, 2, 3], yt=[-2, -1, 0, 1, 2, 3], xf="d", yf="d"),
    dict(title="two_cluster", pts=[(TWOC_L, "b"), (TWOC_L2, "b"), (TWOC_R, "b"), (TWOC_R2, "b")], curves=[TWOC_C],
         xt=[-2, -1, 0, 1, 2], yt=[-2.0, -1.5, -1.0, -0.5, 0.0, 0.5, 1.0, 1.5, 2.0], xf="d", yf=".1f"),
    dict(title="Twomoons", pts=[(MOON_B, "b"), (MOON_B2, "b"), (MOON_O, "o"), (MOON_O2, "o")],
         curves=[MOON_CB, MOON_CO],
         xt=[-1.0, -0.5, 0.0, 0.5, 1.0, 1.5, 2.0], yt=[-0.75, -0.5, -0.25, 0.0, 0.25, 0.5, 0.75, 1.0, 1.25],
         xf=".1f", yf=".2f"),
    dict(title="Five_cluster", pts=[(FIVE_O, "o"), (FIVE_O2, "o"), (FIVE_B, "b"), (FIVE_B2, "b"), (FIVE_G, "g")],
         curves=[FIVE_CO, FIVE_CB, FIVE_CG],
         xt=[-2.5, -2.0, -1.5, -1.0, -0.5, 0.0, 0.5, 1.0, 1.5], yt=[-2.0, -1.5, -1.0, -0.5, 0.0, 0.5, 1.0, 1.5, 2.0],
         xf=".1f", yf=".1f"),
]

W, H = 293, 218
FRAME_COLOR = "#e2e2e2"


def padded(vals):
    lo, hi = min(vals), max(vals)
    m = 0.05 * (hi - lo)
    return [lo - m, hi + m]


def frame_layers(col):
    one = pd.DataFrame({"a": [0]})
    right = W + 38 if col < 2 else W + 20
    base = alt.Chart(one).mark_rule(color=FRAME_COLOR, strokeWidth=1.5)
    layers = [
        base.encode(x=alt.value(-47), x2=alt.value(right), y=alt.value(-33)),
        base.encode(x=alt.value(-47), x2=alt.value(right), y=alt.value(H + 31)),
        base.encode(x=alt.value(-47), y=alt.value(-33), y2=alt.value(H + 31)),
    ]
    if col < 2:
        layers.append(base.encode(x=alt.value(right), y=alt.value(-33), y2=alt.value(H + 31)))
    return layers


def make_panel(idx, p):
    prow = []
    for pts, s in p["pts"]:
        prow += [{"x": x, "y": y, "s": s} for x, y in pts]
    crow = []
    for k, c in enumerate(p["curves"]):
        crow += [{"x": x, "y": y, "k": k, "o": j} for j, (x, y) in enumerate(c)]
    pdf = pd.DataFrame(prow)
    cdf = pd.DataFrame(crow)
    xd = padded(list(pdf["x"]) + list(cdf["x"]))
    yd = padded(list(pdf["y"]) + list(cdf["y"]))
    xs = alt.Scale(domain=xd, nice=False, zero=False)
    ys = alt.Scale(domain=yd, nice=False, zero=False)
    xax = alt.Axis(values=p["xt"], tickCount=len(p["xt"]), format=p["xf"], title=None, labelOverlap=False)
    yax = alt.Axis(values=p["yt"], tickCount=len(p["yt"]), format=p["yf"], title=None, labelOverlap=False)

    points = alt.Chart(pdf).mark_circle(size=15, opacity=1).encode(
        x=alt.X("x:Q", scale=xs, axis=xax),
        y=alt.Y("y:Q", scale=ys, axis=yax),
        color=alt.Color("s:N", scale=alt.Scale(domain=["b", "o", "g"], range=[BLUE, ORANGE, GREEN]), legend=None),
    )
    line = alt.Chart(cdf).mark_line(color="#ff2a2a", strokeWidth=1.7, opacity=0.85, interpolate="monotone").encode(
        x=alt.X("x:Q", scale=xs, axis=xax),
        y=alt.Y("y:Q", scale=ys, axis=yax),
        detail="k:N",
        order="o:Q",
    )
    return alt.layer(*frame_layers(idx % 3), points, line).properties(
        width=W, height=H,
        title=alt.TitleParams(
            text=p["title"], orient="bottom", anchor="middle", frame="group", dx=-4.5,
            font="Liberation Serif", fontSize=32, fontWeight="normal", color="black", offset=10,
        ),
    )


chart = alt.concat(*[make_panel(i, p) for i, p in enumerate(PANELS)], columns=3).properties(
    spacing={"row": 117, "column": 120},
    bounds="flush",
    padding={"left": 0, "top": 1, "right": 0, "bottom": 0},
).configure_view(
    stroke="#808080", strokeWidth=1.5
).configure_axis(
    domain=False, grid=False, labelFont="DejaVu Sans", labelFontSize=8, labelColor="#444444",
    tickColor="#444444", tickSize=3.5, tickWidth=0.8, labelPadding=2, labelFlush=False,
)

chart.save("out.html", embed_options={"renderer": "svg", "actions": False})
